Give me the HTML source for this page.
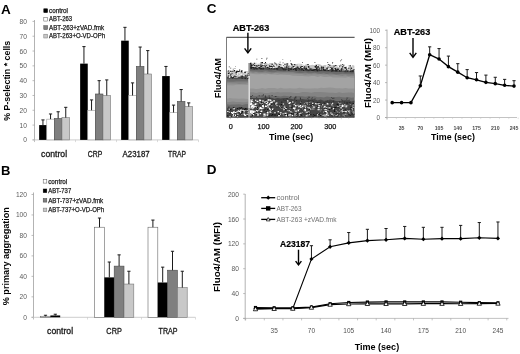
<!DOCTYPE html>
<html><head><meta charset="utf-8"><title>Figure</title>
<style>html,body{margin:0;padding:0;background:#fff;overflow:hidden}svg{display:block}text{font-family:"Liberation Sans",sans-serif}</style>
</head><body>
<svg width="520" height="354" viewBox="0 0 520 354">
<rect x="0" y="0" width="520" height="354" fill="#fff"/>
<text x="1.00" y="14.00" font-size="13.5" font-weight="bold" fill="#000" text-anchor="start" >A</text>
<line x1="34.50" y1="20.00" x2="34.50" y2="141.90" stroke="#a0a0a0" stroke-width="0.8" />
<line x1="32.50" y1="139.90" x2="198.50" y2="139.90" stroke="#c0c0c0" stroke-width="0.8" />
<line x1="32.50" y1="139.90" x2="34.50" y2="139.90" stroke="#a0a0a0" stroke-width="0.7" />
<text x="27.00" y="142.40" font-size="7" font-weight="normal" fill="#5a5a5a" text-anchor="end" textLength="3.7" lengthAdjust="spacingAndGlyphs" >0</text>
<line x1="32.50" y1="125.09" x2="34.50" y2="125.09" stroke="#a0a0a0" stroke-width="0.7" />
<text x="27.00" y="127.59" font-size="7" font-weight="normal" fill="#5a5a5a" text-anchor="end" textLength="7.4" lengthAdjust="spacingAndGlyphs" >10</text>
<line x1="32.50" y1="110.28" x2="34.50" y2="110.28" stroke="#a0a0a0" stroke-width="0.7" />
<text x="27.00" y="112.78" font-size="7" font-weight="normal" fill="#5a5a5a" text-anchor="end" textLength="7.4" lengthAdjust="spacingAndGlyphs" >20</text>
<line x1="32.50" y1="95.47" x2="34.50" y2="95.47" stroke="#a0a0a0" stroke-width="0.7" />
<text x="27.00" y="97.97" font-size="7" font-weight="normal" fill="#5a5a5a" text-anchor="end" textLength="7.4" lengthAdjust="spacingAndGlyphs" >30</text>
<line x1="32.50" y1="80.66" x2="34.50" y2="80.66" stroke="#a0a0a0" stroke-width="0.7" />
<text x="27.00" y="83.16" font-size="7" font-weight="normal" fill="#5a5a5a" text-anchor="end" textLength="7.4" lengthAdjust="spacingAndGlyphs" >40</text>
<line x1="32.50" y1="65.85" x2="34.50" y2="65.85" stroke="#a0a0a0" stroke-width="0.7" />
<text x="27.00" y="68.35" font-size="7" font-weight="normal" fill="#5a5a5a" text-anchor="end" textLength="7.4" lengthAdjust="spacingAndGlyphs" >50</text>
<line x1="32.50" y1="51.04" x2="34.50" y2="51.04" stroke="#a0a0a0" stroke-width="0.7" />
<text x="27.00" y="53.54" font-size="7" font-weight="normal" fill="#5a5a5a" text-anchor="end" textLength="7.4" lengthAdjust="spacingAndGlyphs" >60</text>
<line x1="32.50" y1="36.23" x2="34.50" y2="36.23" stroke="#a0a0a0" stroke-width="0.7" />
<text x="27.00" y="38.73" font-size="7" font-weight="normal" fill="#5a5a5a" text-anchor="end" textLength="7.4" lengthAdjust="spacingAndGlyphs" >70</text>
<line x1="32.50" y1="21.42" x2="34.50" y2="21.42" stroke="#a0a0a0" stroke-width="0.7" />
<text x="27.00" y="23.92" font-size="7" font-weight="normal" fill="#5a5a5a" text-anchor="end" textLength="7.4" lengthAdjust="spacingAndGlyphs" >80</text>
<line x1="34.50" y1="139.90" x2="34.50" y2="142.10" stroke="#c4c4c4" stroke-width="0.6" />
<line x1="75.50" y1="139.90" x2="75.50" y2="142.10" stroke="#c4c4c4" stroke-width="0.6" />
<line x1="116.50" y1="139.90" x2="116.50" y2="142.10" stroke="#c4c4c4" stroke-width="0.6" />
<line x1="157.50" y1="139.90" x2="157.50" y2="142.10" stroke="#c4c4c4" stroke-width="0.6" />
<line x1="198.50" y1="139.90" x2="198.50" y2="142.10" stroke="#c4c4c4" stroke-width="0.6" />
<rect x="39.15" y="125.09" width="7.60" height="14.81" fill="#000"/>
<line x1="42.95" y1="125.09" x2="42.95" y2="119.91" stroke="#1a1a1a" stroke-width="1.0" />
<line x1="41.35" y1="119.91" x2="44.55" y2="119.91" stroke="#1a1a1a" stroke-width="1.0" />
<rect x="46.75" y="119.17" width="7.60" height="20.73" fill="#fff" stroke="#999" stroke-width="0.6"/>
<line x1="50.55" y1="119.17" x2="50.55" y2="113.98" stroke="#1a1a1a" stroke-width="1.0" />
<line x1="48.95" y1="113.98" x2="52.15" y2="113.98" stroke="#1a1a1a" stroke-width="1.0" />
<rect x="54.35" y="118.43" width="7.60" height="21.47" fill="#7f7f7f" stroke="#4a4a4a" stroke-width="0.6"/>
<line x1="58.15" y1="118.43" x2="58.15" y2="111.76" stroke="#1a1a1a" stroke-width="1.0" />
<line x1="56.55" y1="111.76" x2="59.75" y2="111.76" stroke="#1a1a1a" stroke-width="1.0" />
<rect x="61.95" y="117.69" width="7.60" height="22.22" fill="#c8c8c8" stroke="#777" stroke-width="0.6"/>
<line x1="65.75" y1="117.69" x2="65.75" y2="107.32" stroke="#1a1a1a" stroke-width="1.0" />
<line x1="64.15" y1="107.32" x2="67.35" y2="107.32" stroke="#1a1a1a" stroke-width="1.0" />
<rect x="80.15" y="63.63" width="7.60" height="76.27" fill="#000"/>
<line x1="83.95" y1="63.63" x2="83.95" y2="46.60" stroke="#1a1a1a" stroke-width="1.0" />
<line x1="82.35" y1="46.60" x2="85.55" y2="46.60" stroke="#1a1a1a" stroke-width="1.0" />
<rect x="87.75" y="110.28" width="7.60" height="29.62" fill="#fff" stroke="#999" stroke-width="0.6"/>
<line x1="91.55" y1="110.28" x2="91.55" y2="99.91" stroke="#1a1a1a" stroke-width="1.0" />
<line x1="89.95" y1="99.91" x2="93.15" y2="99.91" stroke="#1a1a1a" stroke-width="1.0" />
<rect x="95.35" y="93.99" width="7.60" height="45.91" fill="#7f7f7f" stroke="#4a4a4a" stroke-width="0.6"/>
<line x1="99.15" y1="93.99" x2="99.15" y2="80.66" stroke="#1a1a1a" stroke-width="1.0" />
<line x1="97.55" y1="80.66" x2="100.75" y2="80.66" stroke="#1a1a1a" stroke-width="1.0" />
<rect x="102.95" y="95.47" width="7.60" height="44.43" fill="#c8c8c8" stroke="#777" stroke-width="0.6"/>
<line x1="106.75" y1="95.47" x2="106.75" y2="79.92" stroke="#1a1a1a" stroke-width="1.0" />
<line x1="105.15" y1="79.92" x2="108.35" y2="79.92" stroke="#1a1a1a" stroke-width="1.0" />
<rect x="121.15" y="40.67" width="7.60" height="99.23" fill="#000"/>
<line x1="124.95" y1="40.67" x2="124.95" y2="27.34" stroke="#1a1a1a" stroke-width="1.0" />
<line x1="123.35" y1="27.34" x2="126.55" y2="27.34" stroke="#1a1a1a" stroke-width="1.0" />
<rect x="128.75" y="95.47" width="7.60" height="44.43" fill="#fff" stroke="#999" stroke-width="0.6"/>
<line x1="132.55" y1="95.47" x2="132.55" y2="82.88" stroke="#1a1a1a" stroke-width="1.0" />
<line x1="130.95" y1="82.88" x2="134.15" y2="82.88" stroke="#1a1a1a" stroke-width="1.0" />
<rect x="136.35" y="66.44" width="7.60" height="73.46" fill="#7f7f7f" stroke="#4a4a4a" stroke-width="0.6"/>
<line x1="140.15" y1="66.44" x2="140.15" y2="47.04" stroke="#1a1a1a" stroke-width="1.0" />
<line x1="138.55" y1="47.04" x2="141.75" y2="47.04" stroke="#1a1a1a" stroke-width="1.0" />
<rect x="143.95" y="74.00" width="7.60" height="65.90" fill="#c8c8c8" stroke="#777" stroke-width="0.6"/>
<line x1="147.75" y1="74.00" x2="147.75" y2="50.60" stroke="#1a1a1a" stroke-width="1.0" />
<line x1="146.15" y1="50.60" x2="149.35" y2="50.60" stroke="#1a1a1a" stroke-width="1.0" />
<rect x="162.15" y="76.07" width="7.60" height="63.83" fill="#000"/>
<line x1="165.95" y1="76.07" x2="165.95" y2="66.44" stroke="#1a1a1a" stroke-width="1.0" />
<line x1="164.35" y1="66.44" x2="167.55" y2="66.44" stroke="#1a1a1a" stroke-width="1.0" />
<rect x="169.75" y="112.50" width="7.60" height="27.40" fill="#fff" stroke="#999" stroke-width="0.6"/>
<line x1="173.55" y1="112.50" x2="173.55" y2="105.10" stroke="#1a1a1a" stroke-width="1.0" />
<line x1="171.95" y1="105.10" x2="175.15" y2="105.10" stroke="#1a1a1a" stroke-width="1.0" />
<rect x="177.35" y="101.39" width="7.60" height="38.51" fill="#7f7f7f" stroke="#4a4a4a" stroke-width="0.6"/>
<line x1="181.15" y1="101.39" x2="181.15" y2="89.55" stroke="#1a1a1a" stroke-width="1.0" />
<line x1="179.55" y1="89.55" x2="182.75" y2="89.55" stroke="#1a1a1a" stroke-width="1.0" />
<rect x="184.95" y="106.58" width="7.60" height="33.32" fill="#c8c8c8" stroke="#777" stroke-width="0.6"/>
<line x1="188.75" y1="106.58" x2="188.75" y2="102.88" stroke="#1a1a1a" stroke-width="1.0" />
<line x1="187.15" y1="102.88" x2="190.35" y2="102.88" stroke="#1a1a1a" stroke-width="1.0" />
<text x="54.10" y="157.00" font-size="8.3" font-weight="normal" fill="#1a1a1a" text-anchor="middle" textLength="26.0" lengthAdjust="spacingAndGlyphs" stroke="#1a1a1a" stroke-width="0.3">control</text>
<text x="95.10" y="157.00" font-size="8.3" font-weight="normal" fill="#1a1a1a" text-anchor="middle" textLength="14.5" lengthAdjust="spacingAndGlyphs" stroke="#1a1a1a" stroke-width="0.3">CRP</text>
<text x="136.10" y="157.00" font-size="8.3" font-weight="normal" fill="#1a1a1a" text-anchor="middle" textLength="27.0" lengthAdjust="spacingAndGlyphs" stroke="#1a1a1a" stroke-width="0.3">A23187</text>
<text x="177.10" y="157.00" font-size="8.3" font-weight="normal" fill="#1a1a1a" text-anchor="middle" textLength="18.0" lengthAdjust="spacingAndGlyphs" stroke="#1a1a1a" stroke-width="0.3">TRAP</text>
<text x="10.00" y="80.80" font-size="9" font-weight="bold" fill="#000" text-anchor="middle" textLength="80.0" lengthAdjust="spacingAndGlyphs" transform="rotate(-90 10.00 80.80)" >% P-selectin * cells</text>
<rect x="43.80" y="8.80" width="3.80" height="3.80" fill="#000" stroke="#000" stroke-width="0.5"/>
<text x="49.00" y="13.00" font-size="6.3" font-weight="normal" fill="#222" text-anchor="start" textLength="19.0" lengthAdjust="spacingAndGlyphs" stroke="#222" stroke-width="0.25">control</text>
<rect x="43.80" y="17.27" width="3.80" height="3.80" fill="#fff" stroke="#555" stroke-width="0.5"/>
<text x="49.00" y="21.47" font-size="6.3" font-weight="normal" fill="#222" text-anchor="start" textLength="23.0" lengthAdjust="spacingAndGlyphs" stroke="#222" stroke-width="0.25">ABT-263</text>
<rect x="43.80" y="25.74" width="3.80" height="3.80" fill="#7f7f7f" stroke="#444" stroke-width="0.5"/>
<text x="49.00" y="29.94" font-size="6.3" font-weight="normal" fill="#222" text-anchor="start" textLength="55.0" lengthAdjust="spacingAndGlyphs" stroke="#222" stroke-width="0.25">ABT-263+zVAD.fmk</text>
<rect x="43.80" y="34.21" width="3.80" height="3.80" fill="#c8c8c8" stroke="#777" stroke-width="0.5"/>
<text x="49.00" y="38.41" font-size="6.3" font-weight="normal" fill="#222" text-anchor="start" textLength="56.0" lengthAdjust="spacingAndGlyphs" stroke="#222" stroke-width="0.25">ABT-263+O-VD-OPh</text>
<text x="0.90" y="175.00" font-size="13" font-weight="bold" fill="#000" text-anchor="start" >B</text>
<line x1="33.50" y1="192.48" x2="33.50" y2="319.30" stroke="#a0a0a0" stroke-width="0.8" />
<line x1="31.50" y1="317.30" x2="195.50" y2="317.30" stroke="#c0c0c0" stroke-width="0.8" />
<line x1="31.50" y1="317.30" x2="33.50" y2="317.30" stroke="#a0a0a0" stroke-width="0.7" />
<text x="27.00" y="319.80" font-size="7" font-weight="normal" fill="#5a5a5a" text-anchor="end" textLength="3.7" lengthAdjust="spacingAndGlyphs" >0</text>
<line x1="31.50" y1="296.83" x2="33.50" y2="296.83" stroke="#a0a0a0" stroke-width="0.7" />
<text x="27.00" y="299.33" font-size="7" font-weight="normal" fill="#5a5a5a" text-anchor="end" textLength="7.4" lengthAdjust="spacingAndGlyphs" >20</text>
<line x1="31.50" y1="276.36" x2="33.50" y2="276.36" stroke="#a0a0a0" stroke-width="0.7" />
<text x="27.00" y="278.86" font-size="7" font-weight="normal" fill="#5a5a5a" text-anchor="end" textLength="7.4" lengthAdjust="spacingAndGlyphs" >40</text>
<line x1="31.50" y1="255.89" x2="33.50" y2="255.89" stroke="#a0a0a0" stroke-width="0.7" />
<text x="27.00" y="258.39" font-size="7" font-weight="normal" fill="#5a5a5a" text-anchor="end" textLength="7.4" lengthAdjust="spacingAndGlyphs" >60</text>
<line x1="31.50" y1="235.42" x2="33.50" y2="235.42" stroke="#a0a0a0" stroke-width="0.7" />
<text x="27.00" y="237.92" font-size="7" font-weight="normal" fill="#5a5a5a" text-anchor="end" textLength="7.4" lengthAdjust="spacingAndGlyphs" >80</text>
<line x1="31.50" y1="214.95" x2="33.50" y2="214.95" stroke="#a0a0a0" stroke-width="0.7" />
<text x="27.00" y="217.45" font-size="7" font-weight="normal" fill="#5a5a5a" text-anchor="end" textLength="11.1" lengthAdjust="spacingAndGlyphs" >100</text>
<line x1="31.50" y1="194.48" x2="33.50" y2="194.48" stroke="#a0a0a0" stroke-width="0.7" />
<text x="27.00" y="196.98" font-size="7" font-weight="normal" fill="#5a5a5a" text-anchor="end" textLength="11.1" lengthAdjust="spacingAndGlyphs" >120</text>
<line x1="33.50" y1="317.30" x2="33.50" y2="319.50" stroke="#c4c4c4" stroke-width="0.6" />
<line x1="87.50" y1="317.30" x2="87.50" y2="319.50" stroke="#c4c4c4" stroke-width="0.6" />
<line x1="141.50" y1="317.30" x2="141.50" y2="319.50" stroke="#c4c4c4" stroke-width="0.6" />
<line x1="195.50" y1="317.30" x2="195.50" y2="319.50" stroke="#c4c4c4" stroke-width="0.6" />
<rect x="40.60" y="316.28" width="9.80" height="1.02" fill="#fff" stroke="#666" stroke-width="0.6"/>
<line x1="45.50" y1="316.28" x2="45.50" y2="315.25" stroke="#1a1a1a" stroke-width="1.0" />
<line x1="43.90" y1="315.25" x2="47.10" y2="315.25" stroke="#1a1a1a" stroke-width="1.0" />
<rect x="50.40" y="315.46" width="9.80" height="1.84" fill="#000"/>
<line x1="55.30" y1="315.46" x2="55.30" y2="314.23" stroke="#1a1a1a" stroke-width="1.0" />
<line x1="53.70" y1="314.23" x2="56.90" y2="314.23" stroke="#1a1a1a" stroke-width="1.0" />
<rect x="94.60" y="227.23" width="9.80" height="90.07" fill="#fff" stroke="#666" stroke-width="0.6"/>
<line x1="99.50" y1="227.23" x2="99.50" y2="218.02" stroke="#1a1a1a" stroke-width="1.0" />
<line x1="97.90" y1="218.02" x2="101.10" y2="218.02" stroke="#1a1a1a" stroke-width="1.0" />
<rect x="104.40" y="277.38" width="9.80" height="39.92" fill="#000"/>
<line x1="109.30" y1="277.38" x2="109.30" y2="262.03" stroke="#1a1a1a" stroke-width="1.0" />
<line x1="107.70" y1="262.03" x2="110.90" y2="262.03" stroke="#1a1a1a" stroke-width="1.0" />
<rect x="114.20" y="266.12" width="9.80" height="51.18" fill="#7f7f7f" stroke="#4a4a4a" stroke-width="0.6"/>
<line x1="119.10" y1="266.12" x2="119.10" y2="254.87" stroke="#1a1a1a" stroke-width="1.0" />
<line x1="117.50" y1="254.87" x2="120.70" y2="254.87" stroke="#1a1a1a" stroke-width="1.0" />
<rect x="124.00" y="284.04" width="9.80" height="33.26" fill="#c8c8c8" stroke="#777" stroke-width="0.6"/>
<line x1="128.90" y1="284.04" x2="128.90" y2="271.24" stroke="#1a1a1a" stroke-width="1.0" />
<line x1="127.30" y1="271.24" x2="130.50" y2="271.24" stroke="#1a1a1a" stroke-width="1.0" />
<rect x="148.00" y="227.23" width="9.80" height="90.07" fill="#fff" stroke="#666" stroke-width="0.6"/>
<line x1="152.90" y1="227.23" x2="152.90" y2="220.07" stroke="#1a1a1a" stroke-width="1.0" />
<line x1="151.30" y1="220.07" x2="154.50" y2="220.07" stroke="#1a1a1a" stroke-width="1.0" />
<rect x="157.80" y="282.50" width="9.80" height="34.80" fill="#000"/>
<line x1="162.70" y1="282.50" x2="162.70" y2="267.15" stroke="#1a1a1a" stroke-width="1.0" />
<line x1="161.10" y1="267.15" x2="164.30" y2="267.15" stroke="#1a1a1a" stroke-width="1.0" />
<rect x="167.60" y="270.22" width="9.80" height="47.08" fill="#7f7f7f" stroke="#4a4a4a" stroke-width="0.6"/>
<line x1="172.50" y1="270.22" x2="172.50" y2="251.28" stroke="#1a1a1a" stroke-width="1.0" />
<line x1="170.90" y1="251.28" x2="174.10" y2="251.28" stroke="#1a1a1a" stroke-width="1.0" />
<rect x="177.40" y="287.62" width="9.80" height="29.68" fill="#c8c8c8" stroke="#777" stroke-width="0.6"/>
<line x1="182.30" y1="287.62" x2="182.30" y2="271.24" stroke="#1a1a1a" stroke-width="1.0" />
<line x1="180.70" y1="271.24" x2="183.90" y2="271.24" stroke="#1a1a1a" stroke-width="1.0" />
<text x="60.10" y="333.80" font-size="8.3" font-weight="normal" fill="#1a1a1a" text-anchor="middle" textLength="26.0" lengthAdjust="spacingAndGlyphs" stroke="#1a1a1a" stroke-width="0.3">control</text>
<text x="114.10" y="333.80" font-size="8.3" font-weight="normal" fill="#1a1a1a" text-anchor="middle" textLength="15.5" lengthAdjust="spacingAndGlyphs" stroke="#1a1a1a" stroke-width="0.3">CRP</text>
<text x="168.10" y="333.80" font-size="8.3" font-weight="normal" fill="#1a1a1a" text-anchor="middle" textLength="19.0" lengthAdjust="spacingAndGlyphs" stroke="#1a1a1a" stroke-width="0.3">TRAP</text>
<text x="9.20" y="256.20" font-size="9" font-weight="bold" fill="#000" text-anchor="middle" textLength="98.0" lengthAdjust="spacingAndGlyphs" transform="rotate(-90 9.20 256.20)" >% primary aggregation</text>
<rect x="43.20" y="179.50" width="3.60" height="3.60" fill="#fff" stroke="#555" stroke-width="0.5"/>
<text x="48.20" y="183.60" font-size="6.3" font-weight="normal" fill="#222" text-anchor="start" textLength="19.0" lengthAdjust="spacingAndGlyphs" stroke="#222" stroke-width="0.25">control</text>
<rect x="43.20" y="189.00" width="3.60" height="3.60" fill="#000" stroke="#000" stroke-width="0.5"/>
<text x="48.20" y="193.10" font-size="6.3" font-weight="normal" fill="#222" text-anchor="start" textLength="23.0" lengthAdjust="spacingAndGlyphs" stroke="#222" stroke-width="0.25">ABT-737</text>
<rect x="43.20" y="198.50" width="3.60" height="3.60" fill="#7f7f7f" stroke="#444" stroke-width="0.5"/>
<text x="48.20" y="202.60" font-size="6.3" font-weight="normal" fill="#222" text-anchor="start" textLength="55.0" lengthAdjust="spacingAndGlyphs" stroke="#222" stroke-width="0.25">ABT-737+zVAD.fmk</text>
<rect x="43.20" y="208.10" width="3.60" height="3.60" fill="#c8c8c8" stroke="#777" stroke-width="0.5"/>
<text x="48.20" y="212.20" font-size="6.3" font-weight="normal" fill="#222" text-anchor="start" textLength="56.0" lengthAdjust="spacingAndGlyphs" stroke="#222" stroke-width="0.25">ABT-737+O-VD-OPh</text>
<text x="206.80" y="13.20" font-size="13.5" font-weight="bold" fill="#000" text-anchor="start" >C</text>
<defs><clipPath id="cbox"><rect x="226.6" y="37.3" width="128" height="80.3"/></clipPath></defs>
<g clip-path="url(#cbox)">
<polygon points="249.9,63.1 251.9,62.7 253.9,64.0 255.9,62.6 258.0,63.8 260.0,63.4 262.0,62.7 264.0,63.9 266.0,62.8 268.0,63.8 270.0,62.9 272.0,63.0 274.1,63.9 276.1,64.9 278.1,63.3 280.1,63.6 282.1,64.6 284.1,65.4 286.1,64.6 288.2,64.2 290.2,65.6 292.2,63.4 294.2,65.4 296.2,64.1 298.2,63.8 300.2,63.8 302.2,64.3 304.3,65.6 306.3,64.1 308.3,65.1 310.3,65.3 312.3,64.7 314.3,65.2 316.3,64.0 318.4,64.1 320.4,64.5 322.4,65.7 324.4,65.1 326.4,64.9 328.4,65.6 330.4,65.3 332.5,65.0 334.5,66.2 336.5,66.0 338.5,65.0 340.5,65.8 342.5,65.8 344.5,66.7 346.5,66.4 348.6,65.3 350.6,67.1 352.6,65.0 354.6,65.8 354.6,118.6 352.6,117.2 350.6,118.0 348.6,116.9 346.5,118.4 344.5,118.6 342.5,118.2 340.5,118.9 338.5,117.6 336.5,118.5 334.5,118.2 332.5,118.2 330.4,117.9 328.4,118.8 326.4,119.1 324.4,117.9 322.4,118.4 320.4,116.9 318.4,118.5 316.3,118.4 314.3,119.2 312.3,118.8 310.3,117.5 308.3,117.7 306.3,118.4 304.3,116.9 302.2,117.9 300.2,117.2 298.2,117.1 296.2,116.9 294.2,118.6 292.2,117.1 290.2,117.4 288.2,117.7 286.1,118.9 284.1,117.0 282.1,117.9 280.1,118.1 278.1,118.9 276.1,118.8 274.1,118.9 272.0,117.5 270.0,117.8 268.0,117.7 266.0,118.9 264.0,119.1 262.0,117.2 260.0,117.2 258.0,117.4 255.9,117.4 253.9,118.0 251.9,118.2 249.9,117.4" fill="#c4c4c4"/>
<polygon points="249.9,66.4 251.9,67.0 253.9,67.0 255.9,67.3 258.0,67.8 260.0,67.6 262.0,67.4 264.0,67.6 266.0,67.7 268.0,67.1 270.0,68.2 272.0,68.1 274.1,68.3 276.1,68.2 278.1,67.8 280.1,67.9 282.1,67.6 284.1,68.3 286.1,67.7 288.2,67.8 290.2,68.0 292.2,68.0 294.2,68.3 296.2,68.0 298.2,68.0 300.2,68.3 302.2,68.3 304.3,68.7 306.3,68.3 308.3,69.4 310.3,69.2 312.3,68.7 314.3,68.9 316.3,69.0 318.4,69.1 320.4,68.9 322.4,69.8 324.4,70.1 326.4,69.5 328.4,69.6 330.4,69.2 332.5,69.3 334.5,69.6 336.5,69.6 338.5,70.4 340.5,69.6 342.5,69.5 344.5,70.7 346.5,70.3 348.6,69.9 350.6,70.4 352.6,69.9 354.6,70.5 354.6,118.6 352.6,118.4 350.6,118.2 348.6,117.7 346.5,117.8 344.5,117.6 342.5,118.3 340.5,118.0 338.5,118.3 336.5,117.8 334.5,117.7 332.5,118.4 330.4,118.6 328.4,118.4 326.4,118.4 324.4,118.4 322.4,118.3 320.4,117.7 318.4,118.0 316.3,117.8 314.3,117.4 312.3,117.4 310.3,117.7 308.3,117.7 306.3,118.2 304.3,118.5 302.2,117.9 300.2,118.5 298.2,118.6 296.2,118.5 294.2,117.8 292.2,117.7 290.2,117.7 288.2,117.6 286.1,117.6 284.1,118.1 282.1,118.5 280.1,118.4 278.1,118.0 276.1,118.2 274.1,118.4 272.0,117.5 270.0,118.2 268.0,118.5 266.0,118.3 264.0,118.3 262.0,118.0 260.0,117.6 258.0,118.3 255.9,117.8 253.9,118.4 251.9,118.6 249.9,117.9" fill="#4e4e4e"/>
<polygon points="249.9,69.2 253.0,69.8 256.1,69.7 259.1,69.3 262.2,69.3 265.3,69.4 268.4,70.3 271.5,70.3 274.5,69.7 277.6,70.5 280.7,70.7 283.8,70.5 286.9,70.3 289.9,70.6 293.0,70.2 296.1,70.2 299.2,71.3 302.2,71.0 305.3,71.0 308.4,71.5 311.5,71.1 314.6,71.6 317.6,71.7 320.7,71.2 323.8,71.3 326.9,71.4 330.0,71.5 333.0,71.9 336.1,71.7 339.2,71.9 342.3,71.8 345.4,72.6 348.4,72.2 351.5,72.4 354.6,72.6 354.6,102.9 351.5,102.3 348.4,102.7 345.4,102.1 342.3,102.1 339.2,101.9 336.1,101.3 333.0,101.6 330.0,101.2 326.9,100.9 323.8,101.6 320.7,100.9 317.6,101.1 314.6,101.2 311.5,100.9 308.4,100.6 305.3,100.6 302.2,100.6 299.2,100.7 296.1,99.9 293.0,100.2 289.9,99.8 286.9,99.7 283.8,100.1 280.7,99.7 277.6,99.6 274.5,99.7 271.5,99.7 268.4,99.1 265.3,99.2 262.2,99.0 259.1,98.9 256.1,98.9 253.0,98.6 249.9,98.5" fill="#6c6c6c"/>
<polygon points="249.9,71.0 253.0,71.5 256.1,71.4 259.1,71.7 262.2,71.9 265.3,71.3 268.4,71.7 271.5,72.2 274.5,72.2 277.6,71.6 280.7,71.7 283.8,72.1 286.9,71.8 289.9,72.1 293.0,72.0 296.1,72.7 299.2,72.9 302.2,73.1 305.3,72.5 308.4,73.2 311.5,73.2 314.6,72.8 317.6,73.6 320.7,73.8 323.8,73.2 326.9,74.0 330.0,73.6 333.0,73.8 336.1,74.4 339.2,74.3 342.3,73.7 345.4,74.1 348.4,74.3 351.5,74.2 354.6,74.2 354.6,97.3 351.5,97.7 348.4,96.9 345.4,97.4 342.3,97.2 339.2,96.7 336.1,97.0 333.0,97.2 330.0,97.0 326.9,96.5 323.8,97.4 320.7,97.1 317.6,97.3 314.6,96.3 311.5,96.4 308.4,96.2 305.3,96.8 302.2,96.3 299.2,96.1 296.1,96.3 293.0,96.7 289.9,96.6 286.9,96.0 283.8,95.8 280.7,96.5 277.6,96.1 274.5,96.2 271.5,95.5 268.4,95.4 265.3,96.0 262.2,95.7 259.1,95.2 256.1,96.1 253.0,95.7 249.9,95.8" fill="#838383"/>
<polygon points="249.9,72.0 253.0,73.0 256.1,72.2 259.1,73.2 262.2,72.9 265.3,72.8 268.4,73.2 271.5,73.7 274.5,73.0 277.6,73.0 280.7,73.6 283.8,73.3 286.9,73.3 289.9,73.4 293.0,73.4 296.1,73.7 299.2,73.9 302.2,74.0 305.3,74.7 308.4,74.2 311.5,74.6 314.6,74.3 317.6,74.6 320.7,74.3 323.8,74.7 326.9,74.5 330.0,75.5 333.0,75.3 336.1,75.0 339.2,75.5 342.3,76.1 345.4,75.2 348.4,76.2 351.5,75.8 354.6,76.0 354.6,92.9 351.5,92.4 348.4,92.5 345.4,92.7 342.3,93.1 339.2,92.3 336.1,92.9 333.0,92.7 330.0,92.7 326.9,92.4 323.8,92.3 320.7,92.0 317.6,92.1 314.6,92.0 311.5,92.8 308.4,92.2 305.3,92.1 302.2,92.0 299.2,92.9 296.1,92.9 293.0,92.7 289.9,92.2 286.9,92.2 283.8,92.3 280.7,92.5 277.6,92.1 274.5,92.4 271.5,92.2 268.4,93.1 265.3,93.1 262.2,92.6 259.1,92.2 256.1,93.1 253.0,92.3 249.9,92.3" fill="#939393"/>
<polygon points="249.9,73.4 253.0,74.0 256.1,74.2 259.1,74.3 262.2,74.1 265.3,74.6 268.4,74.1 271.5,74.5 274.5,74.4 277.6,74.9 280.7,74.6 283.8,74.7 286.9,75.1 289.9,75.1 293.0,75.7 296.1,75.7 299.2,76.1 302.2,76.1 305.3,76.3 308.4,76.6 311.5,76.1 314.6,76.1 317.6,77.0 320.7,76.1 323.8,77.0 326.9,77.0 330.0,76.4 333.0,77.4 336.1,77.6 339.2,77.4 342.3,77.6 345.4,77.8 348.4,77.1 351.5,77.7 354.6,77.8 354.6,88.4 351.5,88.4 348.4,88.4 345.4,88.1 342.3,88.5 339.2,88.3 336.1,88.3 333.0,87.8 330.0,87.6 326.9,87.7 323.8,88.0 320.7,87.7 317.6,88.6 314.6,88.3 311.5,88.4 308.4,88.4 305.3,88.5 302.2,88.2 299.2,87.7 296.1,88.6 293.0,88.6 289.9,88.3 286.9,88.4 283.8,88.5 280.7,87.8 277.6,88.7 274.5,88.1 271.5,87.9 268.4,88.1 265.3,88.7 262.2,88.1 259.1,88.7 256.1,89.0 253.0,88.5 249.9,88.4" fill="#a3a3a3"/>
<polygon points="249.9,97.5 253.0,97.9 256.1,98.1 259.1,98.0 262.2,98.1 265.3,97.3 268.4,97.6 271.5,97.8 274.5,98.7 277.6,98.1 280.7,98.6 283.8,97.9 286.9,98.0 289.9,98.5 293.0,99.2 296.1,99.4 299.2,99.4 302.2,98.9 305.3,99.4 308.4,99.4 311.5,99.5 314.6,99.1 317.6,100.4 320.7,99.4 323.8,100.7 326.9,100.8 330.0,99.4 333.0,100.2 336.1,100.9 339.2,101.2 342.3,100.5 345.4,100.3 348.4,100.3 351.5,101.6 354.6,100.5 354.6,118.1 351.5,117.4 348.4,118.0 345.4,118.7 342.3,117.4 339.2,118.5 336.1,118.0 333.0,118.6 330.0,118.3 326.9,117.6 323.8,118.6 320.7,118.0 317.6,117.2 314.6,117.2 311.5,118.0 308.4,117.9 305.3,117.7 302.2,117.4 299.2,117.8 296.1,117.7 293.0,118.5 289.9,117.2 286.9,118.4 283.8,118.5 280.7,117.4 277.6,118.7 274.5,118.3 271.5,118.6 268.4,117.7 265.3,117.8 262.2,117.8 259.1,118.8 256.1,118.1 253.0,117.8 249.9,117.9" fill="#454545"/>
<polygon points="226.8,71.1 229.0,70.6 231.1,70.7 233.3,72.2 235.4,71.1 237.6,72.4 239.8,71.0 241.9,71.0 244.1,71.5 246.2,70.9 248.4,71.2 248.4,118.9 246.2,118.8 244.1,118.6 241.9,118.3 239.8,118.8 237.6,118.9 235.4,118.1 233.3,118.4 231.1,117.1 229.0,118.5 226.8,117.9" fill="#c4c4c4"/>
<polygon points="226.8,76.8 229.9,76.6 233.0,76.3 236.1,76.0 239.1,76.9 242.2,76.1 245.3,76.5 248.4,76.3 248.4,117.8 245.3,118.2 242.2,118.5 239.1,117.8 236.1,118.2 233.0,117.8 229.9,118.1 226.8,117.9" fill="#4e4e4e"/>
<polygon points="226.8,78.7 229.9,78.7 233.0,78.8 236.1,79.3 239.1,79.0 242.2,78.8 245.3,79.3 248.4,79.4 248.4,108.0 245.3,107.7 242.2,107.8 239.1,107.7 236.1,107.9 233.0,107.7 229.9,107.8 226.8,107.8" fill="#6c6c6c"/>
<polygon points="226.8,81.6 229.9,81.8 233.0,81.7 236.1,81.4 239.1,81.4 242.2,81.5 245.3,81.4 248.4,81.4 248.4,104.1 245.3,104.3 242.2,104.9 239.1,104.2 236.1,104.5 233.0,104.6 229.9,104.8 226.8,104.3" fill="#838383"/>
<polygon points="226.8,83.3 229.9,83.3 233.0,83.4 236.1,83.5 239.1,83.9 242.2,83.8 245.3,83.8 248.4,83.1 248.4,101.6 245.3,102.2 242.2,102.3 239.1,102.0 236.1,102.1 233.0,101.6 229.9,101.9 226.8,102.3" fill="#939393"/>
<polygon points="226.8,85.3 229.9,85.3 233.0,85.4 236.1,84.8 239.1,84.7 242.2,84.7 245.3,85.0 248.4,85.1 248.4,98.9 245.3,98.7 242.2,98.6 239.1,98.7 236.1,98.5 233.0,98.5 229.9,98.1 226.8,98.7" fill="#a0a0a0"/>
<polygon points="226.8,107.7 229.9,108.5 233.0,108.2 236.1,107.8 239.1,107.6 242.2,107.7 245.3,108.2 248.4,108.2 248.4,117.5 245.3,117.5 242.2,118.0 239.1,118.1 236.1,117.9 233.0,117.7 229.9,118.1 226.8,117.4" fill="#454545"/>
<path d="M281.5 65.5h1.5v1.0h-1.5zM342.4 67.3h1.0v0.8h-1.0zM350.5 68.6h1.1v0.7h-1.1zM302.1 67.0h1.2v0.8h-1.2zM319.8 68.7h1.0v0.7h-1.0zM285.3 65.4h1.3v0.8h-1.3zM333.4 68.2h1.2v0.8h-1.2zM351.4 66.8h1.4v0.8h-1.4zM273.1 66.6h1.1v1.2h-1.1zM301.8 64.8h1.0v0.9h-1.0zM319.6 68.8h1.0v0.9h-1.0zM272.2 67.5h1.0v0.7h-1.0zM256.2 64.5h1.4v1.1h-1.4zM326.6 69.2h1.5v0.9h-1.5zM269.3 67.3h1.3v0.7h-1.3zM319.5 66.2h1.1v0.9h-1.1zM267.6 63.0h1.1v0.9h-1.1zM349.9 65.9h1.5v0.8h-1.5zM287.2 67.3h1.4v0.9h-1.4zM255.1 64.8h1.1v1.2h-1.1zM270.1 64.7h1.4v0.7h-1.4zM292.9 67.4h1.4v0.7h-1.4zM253.5 62.9h1.5v0.8h-1.5zM328.1 68.8h1.1v0.9h-1.1zM350.2 68.1h1.1v1.1h-1.1zM283.0 64.7h0.9v1.1h-0.9zM345.9 68.1h1.5v0.7h-1.5zM274.4 65.3h1.5v1.2h-1.5zM290.4 64.8h1.2v1.0h-1.2zM347.1 66.1h1.4v1.1h-1.4zM336.0 68.4h1.3v0.9h-1.3zM283.4 65.1h1.4v0.8h-1.4zM270.6 66.5h1.0v0.8h-1.0zM253.4 65.1h1.1v1.2h-1.1zM342.4 69.6h1.1v0.8h-1.1zM260.0 65.0h1.3v0.9h-1.3zM274.4 65.1h1.3v1.0h-1.3zM328.2 68.6h1.3v0.8h-1.3zM337.9 66.3h1.2v0.9h-1.2zM327.2 65.6h1.0v0.8h-1.0zM266.0 66.9h1.2v0.9h-1.2zM291.4 68.2h1.2v0.8h-1.2zM334.5 67.9h1.5v0.8h-1.5zM299.6 67.6h1.4v1.2h-1.4zM254.1 63.9h1.0v0.8h-1.0zM351.8 68.0h1.5v0.9h-1.5zM340.6 67.1h1.1v1.1h-1.1zM348.9 65.8h1.3v1.0h-1.3zM272.7 64.8h1.0v0.8h-1.0zM276.6 66.0h1.3v0.8h-1.3zM251.1 64.0h1.3v0.8h-1.3zM282.6 64.4h1.4v1.0h-1.4zM256.5 63.1h1.1v1.0h-1.1zM316.8 64.8h1.0v1.1h-1.0zM292.8 65.0h1.1v1.2h-1.1zM282.6 66.0h1.1v0.9h-1.1zM340.4 69.6h1.1v0.8h-1.1zM326.1 65.6h0.9v1.2h-0.9zM294.3 67.5h1.1v1.1h-1.1zM298.2 64.6h0.9v1.0h-0.9zM317.0 68.5h1.0v1.0h-1.0zM288.7 65.9h1.0v0.9h-1.0zM304.5 68.2h1.0v1.0h-1.0zM334.2 69.3h1.0v0.8h-1.0zM348.6 69.7h1.2v0.7h-1.2zM346.9 67.0h1.4v1.0h-1.4zM336.2 65.7h1.4v0.8h-1.4zM292.2 67.5h1.4v0.8h-1.4zM272.7 65.0h1.2v0.9h-1.2zM262.8 64.0h1.3v1.2h-1.3zM254.2 65.2h1.4v0.7h-1.4zM337.7 65.5h1.3v1.0h-1.3zM315.6 65.8h1.2v1.0h-1.2zM294.5 66.7h1.2v0.9h-1.2zM252.3 65.4h1.2v0.8h-1.2zM329.8 68.3h1.2v0.8h-1.2zM299.4 64.4h1.0v0.9h-1.0zM259.5 64.8h1.2v0.7h-1.2zM316.5 64.8h1.3v1.1h-1.3zM303.5 64.3h1.2v0.9h-1.2z" fill="#fff"/>
<path d="M349.5 65.2h1.4v1.2h-1.4zM326.5 69.0h1.0v1.2h-1.0zM301.4 69.2h1.4v0.8h-1.4zM332.4 69.9h0.9v0.9h-0.9zM329.1 64.8h1.4v0.9h-1.4zM335.3 64.9h1.2v1.2h-1.2zM271.7 63.8h1.2v0.9h-1.2zM253.8 62.8h1.0v1.2h-1.0zM321.1 69.4h1.0v1.1h-1.0zM261.9 65.3h1.3v0.9h-1.3zM341.3 67.7h1.2v1.1h-1.2zM260.9 68.3h1.3v0.9h-1.3zM333.4 65.6h1.5v1.0h-1.5zM287.6 67.6h1.2v0.8h-1.2zM327.8 64.0h1.4v0.8h-1.4zM316.8 69.8h1.3v1.0h-1.3zM282.6 62.4h0.9v0.8h-0.9zM314.4 66.2h1.2v1.1h-1.2zM263.7 63.4h1.3v0.7h-1.3zM250.2 63.8h1.0v0.9h-1.0zM273.4 66.0h1.3v0.8h-1.3zM315.2 66.5h1.0v1.2h-1.0zM275.4 63.2h1.0v1.0h-1.0zM341.1 69.2h1.1v0.8h-1.1zM251.1 65.7h1.2v0.9h-1.2zM317.5 66.3h1.5v1.1h-1.5zM275.9 68.1h0.9v1.0h-0.9zM292.4 64.3h0.9v1.1h-0.9zM251.2 65.1h1.5v0.8h-1.5zM270.8 66.1h1.2v1.0h-1.2zM335.1 65.1h1.1v0.9h-1.1zM255.0 67.4h1.4v1.1h-1.4zM250.6 67.0h1.3v0.9h-1.3zM327.6 66.7h1.0v0.8h-1.0zM274.2 62.4h1.1v1.1h-1.1zM322.7 69.1h1.3v0.8h-1.3zM307.9 66.0h1.4v1.0h-1.4zM277.7 66.5h1.5v0.8h-1.5zM342.0 64.2h1.1v0.8h-1.1zM327.8 69.9h1.3v0.9h-1.3zM342.1 66.3h1.0v1.2h-1.0zM315.9 67.9h1.3v1.2h-1.3zM299.1 68.4h1.3v1.1h-1.3zM295.7 67.5h1.2v0.9h-1.2zM272.1 66.2h0.9v1.2h-0.9zM265.0 62.1h1.0v1.2h-1.0zM286.0 63.5h0.9v0.7h-0.9zM322.4 67.7h1.3v1.1h-1.3zM256.8 65.5h1.1v1.1h-1.1zM335.7 69.8h0.9v1.1h-0.9zM345.6 70.4h1.0v0.8h-1.0zM261.6 62.1h1.4v1.1h-1.4zM316.3 68.8h1.3v0.9h-1.3zM260.4 62.4h1.4v0.8h-1.4zM283.3 65.2h0.9v0.8h-0.9zM279.5 67.0h1.1v0.9h-1.1zM350.8 67.7h1.4v1.0h-1.4zM253.1 64.3h1.2v1.1h-1.2zM286.2 67.1h1.2v0.8h-1.2zM340.2 64.7h1.4v0.8h-1.4zM250.0 62.8h1.4v1.2h-1.4zM250.4 64.7h1.2v1.1h-1.2zM269.2 65.3h1.1v1.1h-1.1zM277.2 68.4h1.1v0.8h-1.1zM323.1 66.8h1.0v1.0h-1.0zM258.4 66.9h1.3v1.1h-1.3zM315.6 65.7h1.1v0.9h-1.1zM343.1 64.7h1.4v0.7h-1.4zM271.5 63.8h1.4v1.0h-1.4zM289.6 68.4h1.0v0.9h-1.0zM305.6 68.0h1.4v1.0h-1.4zM286.4 64.7h1.0v1.1h-1.0zM319.2 68.3h1.0v0.9h-1.0zM330.9 67.6h1.0v0.9h-1.0zM342.6 65.7h1.0v0.9h-1.0zM323.5 69.1h1.0v0.8h-1.0zM275.8 64.4h1.2v0.8h-1.2zM284.2 63.7h1.5v1.1h-1.5zM260.6 68.1h1.0v0.9h-1.0zM352.9 69.6h1.3v0.9h-1.3zM270.4 66.2h1.0v0.8h-1.0zM290.6 62.9h1.1v1.1h-1.1zM322.5 66.8h1.3v0.9h-1.3zM264.7 65.8h1.1v1.1h-1.1zM345.0 67.0h1.2v1.1h-1.2zM294.0 64.2h1.3v1.1h-1.3zM330.9 68.4h1.4v1.0h-1.4zM317.1 66.4h1.1v1.0h-1.1zM260.1 64.5h1.4v1.1h-1.4zM315.8 65.0h1.2v0.9h-1.2zM315.0 66.0h1.3v1.2h-1.3zM269.1 66.3h1.4v0.9h-1.4zM301.2 69.3h0.9v1.0h-0.9zM266.7 67.1h1.5v1.0h-1.5zM260.5 65.5h1.2v1.1h-1.2zM303.5 67.2h1.4v1.0h-1.4zM292.9 68.9h1.0v1.0h-1.0zM291.0 67.6h1.0v1.2h-1.0zM287.1 62.9h1.1v0.9h-1.1zM251.3 64.3h1.2v1.1h-1.2zM286.8 64.3h1.0v1.1h-1.0zM348.3 67.7h1.0v1.1h-1.0zM290.9 64.1h1.0v1.1h-1.0zM334.7 68.1h1.2v1.0h-1.2zM273.6 68.4h1.1v1.0h-1.1zM335.6 69.3h1.2v0.9h-1.2zM307.3 64.0h1.4v0.9h-1.4zM339.0 65.8h1.1v0.8h-1.1zM294.5 64.0h0.9v1.1h-0.9zM279.3 63.9h1.1v1.0h-1.1z" fill="#1a1a1a"/>
<path d="M294.8 68.3h1.3v0.9h-1.3zM347.1 70.7h0.9v1.1h-0.9zM344.7 70.4h1.0v1.1h-1.0zM316.2 66.5h0.9v1.2h-0.9zM318.6 67.5h1.0v0.8h-1.0zM274.4 68.3h1.1v0.8h-1.1zM344.6 70.4h1.0v1.1h-1.0zM313.6 69.5h1.3v1.1h-1.3zM332.4 70.2h1.0v1.1h-1.0zM305.5 69.1h1.2v1.1h-1.2zM308.0 67.2h1.0v0.8h-1.0zM301.5 66.2h1.2v0.8h-1.2zM301.3 68.0h1.2v1.1h-1.2zM250.6 67.9h1.2v1.0h-1.2zM319.6 69.9h1.1v0.9h-1.1zM350.5 67.7h1.3v1.0h-1.3zM252.9 67.0h1.3v1.2h-1.3zM284.5 69.4h1.2v1.0h-1.2zM343.9 67.3h1.3v1.0h-1.3zM285.4 69.0h1.1v0.9h-1.1zM304.9 69.2h1.0v0.9h-1.0zM294.1 68.0h1.4v0.9h-1.4zM336.6 68.6h1.2v0.9h-1.2zM302.9 69.9h1.3v1.1h-1.3zM284.5 66.8h1.1v1.0h-1.1zM316.4 69.5h0.9v1.1h-0.9zM342.6 69.3h0.9v0.9h-0.9zM250.6 65.3h1.5v1.0h-1.5zM318.8 69.6h1.4v1.0h-1.4zM314.5 68.9h1.3v1.0h-1.3zM321.2 67.4h1.3v0.9h-1.3zM329.8 67.2h1.0v0.7h-1.0zM331.0 70.5h1.3v0.9h-1.3zM336.0 70.1h1.2v0.8h-1.2zM281.5 67.1h1.1v0.9h-1.1zM317.1 70.2h0.9v1.0h-0.9zM254.0 65.1h1.4v1.0h-1.4zM346.1 69.0h0.9v0.9h-0.9zM311.9 70.0h1.5v0.9h-1.5zM293.1 66.1h1.3v0.8h-1.3zM265.8 65.0h0.9v1.0h-0.9zM262.6 68.7h1.0v1.1h-1.0zM263.4 65.0h1.3v0.8h-1.3zM326.7 67.5h0.9v1.1h-0.9zM324.6 70.1h1.3v0.8h-1.3zM315.7 69.2h1.2v1.2h-1.2zM276.5 69.1h1.3v0.7h-1.3zM251.4 67.1h1.4v0.8h-1.4zM282.5 68.4h1.0v1.1h-1.0zM300.8 66.2h1.1v1.0h-1.1zM295.8 68.5h1.0v1.1h-1.0zM287.9 68.2h1.3v0.9h-1.3zM290.3 68.8h1.5v1.1h-1.5zM309.2 67.4h0.9v1.2h-0.9zM323.5 69.9h1.1v1.0h-1.1zM352.2 70.8h1.3v0.9h-1.3zM294.8 69.3h1.1v1.0h-1.1zM312.9 69.9h1.4v0.9h-1.4zM250.1 65.6h1.2v1.0h-1.2zM335.3 70.5h0.9v1.1h-0.9zM334.9 70.4h1.2v0.9h-1.2zM339.0 70.3h1.3v1.2h-1.3zM286.2 65.9h1.2v1.1h-1.2zM270.9 68.1h1.5v0.8h-1.5zM313.4 69.0h1.2v0.8h-1.2zM276.6 68.3h1.4v0.9h-1.4zM259.1 68.0h1.4v0.8h-1.4zM310.6 69.8h1.4v1.0h-1.4zM299.8 68.3h1.0v0.8h-1.0zM268.8 67.8h1.1v1.0h-1.1zM292.0 67.8h1.0v0.7h-1.0zM354.3 69.0h1.0v1.0h-1.0zM332.3 67.5h1.3v0.9h-1.3zM304.3 66.1h0.9v1.2h-0.9zM340.6 69.0h1.2v0.8h-1.2zM331.5 68.5h1.5v1.1h-1.5zM335.6 70.8h1.1v0.7h-1.1zM270.9 65.8h1.0v0.7h-1.0zM308.3 69.7h1.2v1.2h-1.2zM345.2 67.5h1.3v0.9h-1.3zM262.5 68.7h1.1v1.0h-1.1zM317.0 70.2h1.3v0.9h-1.3zM296.8 66.5h1.5v1.2h-1.5zM273.1 65.3h1.1v0.9h-1.1zM344.4 70.8h1.4v0.7h-1.4zM332.2 69.7h1.3v1.2h-1.3zM255.7 65.2h1.4v1.2h-1.4zM320.8 67.7h1.3v1.1h-1.3zM260.9 66.1h1.1v0.8h-1.1zM300.3 66.6h1.0v0.8h-1.0zM320.8 66.6h1.3v0.8h-1.3zM253.7 68.3h1.0v1.2h-1.0zM340.6 70.7h1.0v0.9h-1.0zM260.1 68.5h1.4v1.0h-1.4zM297.3 67.2h1.4v0.9h-1.4zM315.7 67.0h1.0v0.7h-1.0zM324.6 68.9h1.0v1.1h-1.0zM277.8 66.9h1.0v0.9h-1.0zM337.8 68.4h1.0v1.0h-1.0zM283.2 69.1h1.0v1.2h-1.0zM255.9 68.3h1.3v0.8h-1.3zM299.9 67.1h1.1v0.8h-1.1zM288.0 69.6h1.5v1.2h-1.5zM260.1 66.0h1.4v0.7h-1.4zM326.0 67.9h1.5v0.7h-1.5zM334.4 68.3h1.0v0.7h-1.0zM337.0 69.1h1.0v0.9h-1.0zM345.4 68.1h1.2v0.8h-1.2zM268.8 68.1h1.3v0.8h-1.3zM258.2 65.1h1.3v1.0h-1.3zM278.6 66.1h1.3v1.1h-1.3zM334.9 69.3h1.0v0.8h-1.0zM326.6 68.3h1.3v0.7h-1.3zM334.8 68.3h1.4v1.1h-1.4zM301.5 66.0h1.4v0.9h-1.4zM341.2 68.2h1.0v1.1h-1.0zM288.3 66.3h1.1v1.0h-1.1zM250.4 66.6h1.2v1.0h-1.2zM262.5 67.7h1.4v1.1h-1.4zM283.5 68.3h1.1v1.1h-1.1zM256.3 68.2h1.5v1.0h-1.5zM303.6 68.2h1.2v0.7h-1.2zM351.2 68.3h1.0v0.8h-1.0zM276.1 68.5h0.9v0.8h-0.9zM323.1 67.4h0.9v1.0h-0.9zM310.3 68.3h1.3v0.8h-1.3zM340.9 70.0h0.9v0.8h-0.9zM301.6 68.0h1.1v0.8h-1.1zM292.4 66.3h1.3v1.1h-1.3zM265.3 67.2h1.3v0.8h-1.3zM336.4 70.7h1.1v0.9h-1.1zM337.8 69.1h1.1v1.2h-1.1zM331.2 68.2h1.0v0.9h-1.0zM295.5 69.7h1.4v1.2h-1.4zM335.2 70.3h0.9v1.0h-0.9zM350.2 71.1h1.0v0.9h-1.0zM316.1 67.9h1.2v0.8h-1.2zM295.2 67.8h0.9v0.8h-0.9zM351.4 70.5h1.5v1.0h-1.5zM334.6 70.5h1.4v0.7h-1.4zM317.1 67.5h1.3v0.9h-1.3zM306.7 69.8h1.3v0.8h-1.3zM304.4 67.8h1.5v0.9h-1.5zM281.9 68.0h1.0v1.0h-1.0zM350.0 69.4h1.1v0.9h-1.1zM305.8 66.7h1.0v0.8h-1.0zM280.6 67.0h1.1v0.8h-1.1zM259.1 66.9h1.4v1.0h-1.4zM309.6 68.8h1.0v1.1h-1.0zM298.2 68.1h1.3v0.9h-1.3z" fill="#222"/>
<path d="M282.4 58.9h0.8v0.7h-0.8zM290.0 60.5h0.7v0.7h-0.7zM340.1 60.5h0.9v0.7h-0.9zM279.7 61.8h0.8v0.8h-0.8zM266.5 57.7h1.0v0.7h-1.0zM256.4 58.7h0.9v0.8h-0.9zM261.3 58.2h1.1v0.8h-1.1zM266.1 58.8h0.8v0.8h-0.8zM314.4 62.2h1.0v0.7h-1.0zM327.2 62.2h1.0v0.7h-1.0zM332.1 62.2h1.1v0.6h-1.1zM341.1 59.6h1.0v0.7h-1.0zM302.0 62.3h0.9v0.7h-0.9zM332.0 62.8h0.9v0.7h-0.9z" fill="#333"/>
<path d="M277.6 111.1h1.3v1.1h-1.3zM270.5 104.6h1.8v1.5h-1.8zM276.2 102.6h1.3v0.9h-1.3zM291.6 101.6h1.9v1.1h-1.9zM327.5 114.9h1.2v1.1h-1.2zM249.9 99.3h1.6v1.2h-1.6zM317.6 109.0h2.0v1.2h-2.0zM305.0 106.6h1.4v1.3h-1.4zM345.5 111.3h1.5v0.9h-1.5zM272.0 108.5h1.6v1.5h-1.6zM280.7 106.7h1.6v1.6h-1.6zM285.5 112.7h1.2v1.1h-1.2zM325.6 108.8h1.1v1.5h-1.1zM324.7 115.4h1.9v1.1h-1.9zM262.7 107.5h1.5v1.0h-1.5zM297.6 109.6h1.4v1.6h-1.4zM250.4 105.5h1.8v1.0h-1.8zM249.9 103.7h1.8v1.3h-1.8zM256.5 107.1h1.6v1.0h-1.6zM285.7 115.5h1.6v1.1h-1.6zM254.4 111.5h1.1v0.9h-1.1zM284.6 112.8h1.6v1.4h-1.6zM250.0 111.6h1.3v1.4h-1.3zM255.0 103.2h1.1v1.5h-1.1zM267.4 106.6h1.4v0.8h-1.4zM291.7 114.9h1.4v1.3h-1.4zM250.4 114.3h1.9v1.1h-1.9zM324.0 105.9h1.6v1.6h-1.6zM345.8 105.8h1.4v1.4h-1.4zM264.1 113.5h1.5v1.4h-1.5zM255.2 104.7h1.2v1.6h-1.2zM289.2 101.9h1.5v1.1h-1.5zM250.9 100.6h1.8v1.1h-1.8zM256.2 103.5h1.2v0.8h-1.2zM266.7 101.8h1.7v0.9h-1.7zM327.0 103.6h1.4v1.5h-1.4zM254.5 104.6h1.7v1.1h-1.7zM257.2 114.7h1.5v1.0h-1.5zM253.2 110.6h1.3v1.5h-1.3zM269.0 103.3h1.6v1.0h-1.6zM252.9 107.3h1.5v1.0h-1.5zM270.5 110.0h1.6v1.0h-1.6zM251.5 101.6h1.9v1.1h-1.9zM252.3 108.1h1.4v1.2h-1.4zM250.9 103.8h1.2v0.9h-1.2zM262.1 105.7h1.9v1.4h-1.9zM331.1 103.8h1.3v0.8h-1.3zM302.0 105.9h1.4v1.3h-1.4zM259.7 113.0h1.4v1.3h-1.4zM252.6 114.0h1.7v1.4h-1.7zM250.3 101.3h1.2v1.0h-1.2zM250.3 103.8h1.6v0.9h-1.6zM290.2 111.2h1.3v1.1h-1.3zM267.4 99.3h1.8v1.4h-1.8zM250.4 113.0h1.6v0.8h-1.6zM252.4 112.0h1.2v1.5h-1.2zM251.5 110.3h1.4v1.4h-1.4zM262.0 100.5h1.9v1.1h-1.9zM305.8 111.7h1.8v1.3h-1.8zM250.6 110.4h1.4v1.2h-1.4zM253.1 111.5h1.0v1.4h-1.0zM260.6 108.0h2.0v1.3h-2.0zM259.8 99.9h1.4v1.1h-1.4zM264.2 101.4h1.7v1.3h-1.7zM259.3 107.5h1.4v1.5h-1.4zM263.4 113.6h1.1v1.3h-1.1zM323.9 109.3h1.8v0.9h-1.8zM293.7 107.4h1.8v1.5h-1.8zM262.6 105.0h1.2v0.8h-1.2zM256.5 110.5h1.4v0.9h-1.4zM278.8 105.5h1.2v0.9h-1.2zM353.2 112.4h1.1v1.4h-1.1zM289.4 101.9h1.5v1.1h-1.5zM287.0 100.2h1.9v1.3h-1.9zM343.3 111.0h1.3v1.0h-1.3zM250.1 111.7h1.8v1.0h-1.8zM298.7 113.2h1.9v0.9h-1.9zM326.2 112.0h1.3v0.9h-1.3zM265.0 105.2h1.6v1.1h-1.6zM259.1 99.6h1.6v1.3h-1.6zM307.8 114.1h1.9v1.2h-1.9zM254.4 103.7h1.6v0.9h-1.6zM254.7 106.1h2.0v0.9h-2.0zM275.8 102.6h1.7v0.8h-1.7zM330.2 112.6h1.4v1.0h-1.4zM283.7 106.5h1.3v1.2h-1.3zM325.6 114.2h1.2v1.0h-1.2zM289.4 105.5h1.2v0.9h-1.2zM277.9 115.0h1.9v1.5h-1.9zM347.9 110.6h1.8v0.8h-1.8zM295.0 104.9h1.6v1.6h-1.6zM299.9 105.1h1.3v1.5h-1.3zM256.1 110.1h1.4v0.9h-1.4zM269.4 108.7h1.4v1.2h-1.4zM271.6 101.3h1.2v1.5h-1.2zM252.4 113.2h1.3v0.9h-1.3zM259.9 107.0h1.6v1.0h-1.6zM252.5 107.3h1.6v0.9h-1.6zM251.1 106.0h1.9v1.2h-1.9zM315.1 102.9h2.0v1.4h-2.0zM326.2 107.2h1.2v1.6h-1.2zM317.8 103.3h1.8v0.8h-1.8zM269.4 99.6h1.6v1.0h-1.6zM308.0 107.2h1.9v1.3h-1.9zM289.3 114.2h1.9v0.9h-1.9zM266.7 111.7h1.7v1.5h-1.7zM269.5 111.3h1.9v1.4h-1.9zM294.3 101.9h1.5v1.4h-1.5zM341.7 111.3h1.3v1.0h-1.3zM327.5 109.8h1.1v0.8h-1.1zM321.7 104.2h1.6v1.0h-1.6zM270.2 101.7h1.9v1.2h-1.9zM322.8 114.8h1.0v1.1h-1.0zM282.3 113.5h1.8v0.8h-1.8zM324.4 111.1h1.4v1.2h-1.4zM328.6 107.2h1.9v1.3h-1.9zM265.7 102.7h1.9v1.3h-1.9zM255.0 104.8h1.5v1.3h-1.5zM267.8 99.4h1.6v1.1h-1.6zM277.8 115.3h1.0v0.9h-1.0zM261.4 103.5h1.5v1.0h-1.5zM285.3 114.8h2.0v0.8h-2.0zM317.2 113.7h1.8v1.3h-1.8zM268.6 103.9h1.8v1.5h-1.8zM304.4 105.3h1.8v1.4h-1.8zM298.3 105.8h1.6v1.1h-1.6zM266.4 104.5h2.0v1.2h-2.0zM259.4 102.8h1.3v0.9h-1.3zM332.7 108.1h1.4v1.3h-1.4zM255.0 99.8h1.3v1.0h-1.3zM287.9 114.5h1.3v1.5h-1.3zM251.3 101.6h1.6v1.6h-1.6zM317.7 107.4h1.9v0.9h-1.9zM337.3 105.9h1.3v0.8h-1.3zM261.1 110.6h1.2v1.1h-1.2zM294.2 113.4h1.6v1.0h-1.6zM348.1 110.4h1.1v1.4h-1.1zM266.7 101.4h1.2v1.2h-1.2zM298.9 114.4h1.2v1.1h-1.2zM300.1 106.7h1.7v1.1h-1.7zM273.3 100.2h1.6v1.1h-1.6zM293.6 104.3h1.5v0.8h-1.5zM289.5 115.3h1.1v1.3h-1.1zM265.7 100.7h1.2v0.9h-1.2zM251.6 112.4h1.4v1.2h-1.4zM288.4 110.2h1.6v1.1h-1.6zM260.4 110.7h1.8v1.4h-1.8zM317.4 115.2h1.5v1.0h-1.5zM344.3 104.3h1.0v1.2h-1.0zM317.7 106.5h2.0v1.0h-2.0zM251.6 99.0h1.1v0.8h-1.1zM288.4 102.9h1.9v1.1h-1.9zM255.4 111.1h1.9v0.9h-1.9zM318.2 104.8h2.0v1.2h-2.0zM267.0 112.3h1.5v1.1h-1.5zM252.3 111.0h1.1v1.3h-1.1zM331.6 102.8h1.6v1.1h-1.6zM345.0 110.7h1.2v1.0h-1.2zM275.2 103.3h1.2v1.4h-1.2zM263.3 115.4h1.2v1.3h-1.2zM331.4 113.7h1.3v1.4h-1.3zM262.1 104.5h1.5v1.5h-1.5zM304.6 109.6h1.5v1.3h-1.5zM257.3 113.6h1.4v1.4h-1.4zM255.7 113.2h2.0v1.0h-2.0zM252.4 115.1h1.0v1.5h-1.0zM312.1 102.6h1.2v1.3h-1.2zM266.6 114.2h1.7v1.5h-1.7zM250.2 102.5h1.8v1.4h-1.8zM282.7 103.5h1.4v0.9h-1.4zM353.0 106.9h1.9v0.9h-1.9zM253.4 105.9h1.2v1.3h-1.2zM312.4 108.4h1.1v1.1h-1.1zM340.5 107.0h1.2v1.6h-1.2zM311.4 105.1h1.2v1.0h-1.2zM250.4 107.2h1.4v1.2h-1.4zM249.9 110.2h1.7v1.2h-1.7zM305.7 115.2h1.9v1.4h-1.9zM264.9 106.0h2.0v1.1h-2.0zM272.9 101.8h2.0v0.8h-2.0zM341.8 105.8h1.6v1.1h-1.6zM256.6 100.7h1.8v1.4h-1.8zM250.5 110.3h1.3v1.3h-1.3zM264.6 115.0h1.0v1.4h-1.0zM283.2 109.2h2.0v1.0h-2.0zM313.1 106.6h1.7v1.1h-1.7zM295.4 110.6h1.3v1.3h-1.3zM258.1 109.0h1.3v1.5h-1.3zM310.0 108.6h1.5v1.0h-1.5zM342.0 109.4h1.5v1.2h-1.5zM259.1 101.8h1.8v1.2h-1.8zM325.8 114.0h1.9v0.8h-1.9zM326.5 113.0h1.1v0.9h-1.1zM252.1 104.6h1.8v1.2h-1.8zM251.6 105.3h2.0v1.4h-2.0zM279.8 112.3h1.8v0.9h-1.8zM268.9 107.7h1.2v1.1h-1.2zM270.2 99.7h1.2v1.3h-1.2zM255.5 110.8h1.3v1.1h-1.3zM326.8 103.1h1.6v1.5h-1.6zM274.2 112.2h1.6v1.1h-1.6zM276.1 105.5h1.7v1.0h-1.7zM300.0 112.7h1.4v1.1h-1.4zM341.6 104.9h2.0v1.4h-2.0zM302.3 105.6h1.1v1.4h-1.1zM285.0 107.7h1.9v1.4h-1.9zM292.9 107.4h1.5v1.5h-1.5zM279.3 113.8h1.4v1.2h-1.4zM325.3 111.0h1.7v1.1h-1.7zM304.2 109.0h1.8v1.4h-1.8z" fill="#fff"/>
<path d="M262.3 103.9h0.9v1.1h-0.9zM260.5 101.7h1.4v1.0h-1.4zM255.7 111.3h1.3v1.0h-1.3zM255.6 111.4h1.2v1.0h-1.2zM354.4 113.9h1.4v0.8h-1.4zM284.9 109.0h0.9v1.2h-0.9zM278.7 104.8h1.1v0.8h-1.1zM339.8 110.1h1.2v0.9h-1.2zM255.3 105.1h1.4v1.1h-1.4zM339.6 105.8h1.0v0.7h-1.0zM306.1 107.0h1.2v1.0h-1.2zM311.0 107.0h1.4v0.8h-1.4zM346.2 110.2h0.9v0.9h-0.9zM305.7 107.5h1.2v0.9h-1.2zM278.5 113.3h1.1v1.1h-1.1zM333.9 110.6h1.2v1.2h-1.2zM296.5 114.6h0.9v0.9h-0.9zM316.8 102.3h1.4v0.8h-1.4zM312.3 104.2h1.5v1.0h-1.5zM333.7 109.2h1.3v1.0h-1.3zM280.8 104.1h1.4v0.8h-1.4zM346.0 105.2h1.0v0.8h-1.0zM332.0 115.8h1.1v1.0h-1.1zM276.9 115.0h1.3v0.8h-1.3zM255.8 111.5h0.9v1.1h-0.9zM280.6 104.4h1.2v0.9h-1.2zM308.6 103.7h1.4v0.9h-1.4zM338.0 104.3h1.4v1.2h-1.4zM290.9 101.5h1.1v1.0h-1.1zM273.3 109.3h1.0v0.9h-1.0zM326.1 108.1h1.3v0.8h-1.3zM336.6 103.8h1.5v1.2h-1.5zM348.3 109.8h1.1v0.9h-1.1zM328.5 109.1h1.5v0.8h-1.5zM300.7 114.4h1.3v1.0h-1.3zM259.2 102.5h1.1v1.1h-1.1zM338.4 105.4h1.5v0.7h-1.5zM312.6 116.0h1.1v1.2h-1.1zM318.6 102.4h1.1v0.9h-1.1zM275.8 112.4h1.0v1.1h-1.0zM281.1 101.8h1.2v0.8h-1.2zM307.6 113.3h1.3v0.9h-1.3zM253.4 108.5h1.0v1.0h-1.0zM263.7 109.7h1.1v0.9h-1.1zM319.3 104.1h1.0v1.2h-1.0zM284.6 114.0h1.4v1.0h-1.4zM265.5 101.9h1.4v0.8h-1.4zM301.8 109.4h1.0v0.9h-1.0zM267.1 109.0h1.2v0.9h-1.2zM270.6 107.0h1.0v0.8h-1.0zM275.0 114.5h1.2v1.1h-1.2zM251.5 115.6h1.2v1.1h-1.2zM309.6 111.8h1.0v1.1h-1.0zM266.0 104.6h0.9v0.9h-0.9zM304.1 105.7h1.4v0.8h-1.4zM310.5 105.0h1.3v1.1h-1.3zM324.3 102.7h1.0v1.0h-1.0zM352.8 103.0h1.3v1.1h-1.3zM335.2 107.0h1.4v0.9h-1.4zM346.3 102.5h1.5v0.9h-1.5zM292.5 102.4h1.0v1.1h-1.0zM321.0 103.9h1.1v0.8h-1.1zM270.7 104.0h1.1v1.2h-1.1zM354.3 113.6h1.2v1.0h-1.2zM331.5 115.2h1.4v1.0h-1.4zM270.7 110.5h1.4v1.1h-1.4zM259.6 111.9h1.1v0.8h-1.1zM351.0 111.9h1.3v0.8h-1.3zM336.6 115.6h1.4v1.1h-1.4zM337.1 113.6h1.3v0.9h-1.3zM336.3 113.4h1.4v0.9h-1.4zM350.5 109.9h1.5v0.8h-1.5zM351.3 113.5h1.1v1.1h-1.1zM274.2 103.7h1.2v0.8h-1.2zM301.5 115.1h1.3v1.1h-1.3zM290.9 113.1h1.4v1.0h-1.4zM348.5 114.0h1.1v0.8h-1.1zM318.2 114.1h1.1v1.0h-1.1zM337.5 113.5h0.9v1.0h-0.9zM251.6 101.9h1.4v0.9h-1.4zM313.2 108.4h1.1v0.8h-1.1zM286.9 114.1h1.3v0.9h-1.3zM259.1 104.6h1.3v0.9h-1.3zM319.1 113.6h1.0v1.0h-1.0zM254.2 113.6h1.0v0.9h-1.0zM350.2 107.5h1.0v1.1h-1.0zM313.8 114.9h1.1v1.0h-1.1zM350.0 109.5h1.5v0.8h-1.5zM336.9 104.4h1.2v0.7h-1.2zM268.3 115.6h1.2v1.1h-1.2zM276.2 106.2h1.0v1.0h-1.0zM340.2 109.5h1.1v1.2h-1.1zM343.5 111.7h0.9v1.0h-0.9zM296.4 115.9h1.1v1.0h-1.1zM316.1 107.2h1.2v1.0h-1.2zM344.9 109.4h1.1v1.2h-1.1zM255.9 113.8h1.3v1.0h-1.3zM296.8 112.7h1.4v1.1h-1.4zM328.4 102.4h1.1v0.8h-1.1zM349.7 115.0h1.0v1.0h-1.0zM310.3 102.1h1.1v1.1h-1.1zM317.1 105.8h1.4v0.9h-1.4zM306.9 107.7h1.5v1.0h-1.5zM334.2 111.8h1.1v1.2h-1.1zM324.2 111.9h1.1v0.8h-1.1zM310.1 113.9h1.4v0.9h-1.4zM264.5 108.7h1.4v0.8h-1.4zM327.2 104.3h1.1v0.7h-1.1zM281.1 106.8h1.5v1.2h-1.5zM269.5 105.4h1.5v0.8h-1.5zM283.5 107.7h1.0v0.8h-1.0zM291.1 107.0h1.5v0.8h-1.5zM271.3 115.0h1.2v1.1h-1.2zM316.6 113.2h1.1v0.8h-1.1zM329.2 108.8h1.2v1.0h-1.2zM328.7 105.9h1.1v1.2h-1.1zM305.3 105.7h1.3v0.8h-1.3zM330.7 102.5h1.4v1.0h-1.4zM286.9 115.6h1.1v0.8h-1.1zM257.2 109.1h1.4v1.0h-1.4zM293.1 113.5h1.0v0.9h-1.0zM317.4 116.0h1.3v1.1h-1.3zM331.0 107.7h1.5v1.1h-1.5zM285.7 107.0h1.4v0.9h-1.4zM269.3 114.4h1.2v1.0h-1.2zM320.0 115.0h1.0v0.9h-1.0zM256.8 106.9h1.2v1.1h-1.2zM319.8 110.2h1.1v1.0h-1.1zM278.6 114.0h1.4v1.1h-1.4zM265.7 111.2h1.4v1.0h-1.4zM344.0 115.1h1.3v1.1h-1.3zM317.8 114.7h1.0v1.1h-1.0zM323.6 110.8h1.1v0.8h-1.1zM313.1 113.9h1.1v0.8h-1.1zM273.3 102.1h1.3v1.2h-1.3zM333.9 107.2h1.3v0.8h-1.3zM337.7 106.8h0.9v1.0h-0.9zM264.4 104.8h0.9v0.9h-0.9zM308.0 113.6h0.9v1.1h-0.9zM261.5 103.9h1.3v0.9h-1.3zM284.6 109.7h1.0v1.1h-1.0zM271.8 113.9h1.4v1.0h-1.4zM253.1 112.9h0.9v1.0h-0.9zM294.3 102.0h1.3v1.1h-1.3zM311.1 107.5h1.2v1.0h-1.2zM273.6 114.4h1.5v1.1h-1.5zM350.6 107.0h1.5v0.8h-1.5zM299.9 103.2h1.2v1.0h-1.2zM324.1 108.5h1.1v0.8h-1.1zM292.1 105.4h1.0v1.1h-1.0zM303.9 108.0h1.0v1.1h-1.0zM270.5 104.7h1.2v1.1h-1.2zM351.8 113.0h1.5v1.2h-1.5zM325.5 112.4h0.9v0.8h-0.9zM251.3 114.3h1.3v1.0h-1.3zM277.5 106.3h1.0v1.0h-1.0zM353.7 106.8h0.9v0.8h-0.9zM287.1 114.9h1.4v0.9h-1.4zM260.6 102.0h1.0v1.1h-1.0zM299.2 116.4h1.4v1.1h-1.4zM299.8 113.8h1.0v0.8h-1.0zM308.9 109.1h1.0v0.8h-1.0zM252.1 115.0h1.3v1.2h-1.3zM352.6 108.6h1.3v0.9h-1.3zM334.9 114.2h1.0v0.7h-1.0zM272.3 109.9h1.1v0.7h-1.1zM336.8 113.4h1.2v0.7h-1.2zM343.0 109.8h0.9v0.9h-0.9zM315.3 114.8h1.2v1.0h-1.2zM271.4 104.4h1.4v0.9h-1.4z" fill="#111"/>
<path d="M331.6 103.8h0.9v0.8h-0.9zM334.3 111.9h1.0v0.7h-1.0zM289.6 108.2h1.0v0.9h-1.0zM307.4 110.9h1.1v0.8h-1.1zM349.8 110.5h0.8v0.7h-0.8zM306.5 107.2h1.2v1.0h-1.2zM340.5 102.7h0.8v1.0h-0.8zM287.5 101.9h0.9v1.0h-0.9zM336.4 115.0h1.1v1.0h-1.1zM300.0 101.7h1.2v0.7h-1.2zM338.7 104.8h1.2v0.7h-1.2zM295.4 112.9h1.2v1.0h-1.2zM346.6 109.9h1.2v0.8h-1.2zM331.8 113.2h0.8v0.7h-0.8zM311.4 107.3h0.8v0.9h-0.8zM345.4 113.4h1.0v0.7h-1.0zM304.7 107.7h0.9v1.0h-0.9zM315.9 103.1h1.2v1.0h-1.2zM295.0 106.7h1.0v0.9h-1.0zM332.5 115.7h1.2v0.6h-1.2zM296.2 111.5h1.1v0.8h-1.1zM319.7 110.5h1.1v1.0h-1.1zM343.6 114.8h1.2v0.9h-1.2zM337.0 113.9h1.0v1.0h-1.0zM351.6 108.4h1.2v0.7h-1.2zM315.6 106.4h0.8v0.8h-0.8zM335.4 115.1h1.2v1.0h-1.2zM341.1 106.0h0.9v0.8h-0.9zM306.7 114.4h1.3v0.8h-1.3zM342.4 114.5h1.2v0.9h-1.2zM345.2 106.6h1.1v0.8h-1.1zM352.8 104.6h1.1v0.9h-1.1zM351.3 108.0h1.3v0.9h-1.3zM293.7 104.4h0.9v1.0h-0.9zM309.0 111.9h1.3v0.7h-1.3zM337.3 111.7h1.2v0.9h-1.2zM308.8 102.0h1.1v0.7h-1.1zM352.7 111.2h1.1v0.9h-1.1zM337.8 106.4h0.8v0.7h-0.8zM316.5 103.8h0.9v0.8h-0.9zM337.4 105.9h1.2v0.7h-1.2zM312.3 107.5h1.1v0.8h-1.1zM294.3 115.0h1.0v1.0h-1.0zM345.4 105.4h1.2v1.0h-1.2zM310.4 101.8h0.9v1.0h-0.9zM335.7 110.3h1.1v0.7h-1.1zM294.5 115.7h1.0v0.9h-1.0zM306.1 102.5h0.8v1.0h-0.8zM352.7 107.4h1.2v0.7h-1.2zM308.3 106.9h1.1v0.7h-1.1zM343.6 106.2h1.0v0.9h-1.0zM303.6 104.7h1.0v0.8h-1.0zM324.1 114.2h0.8v0.9h-0.8zM307.0 102.0h1.0v0.7h-1.0zM338.8 103.5h0.9v0.8h-0.9zM306.7 107.9h0.9v0.7h-0.9zM323.9 115.1h1.1v0.7h-1.1zM340.6 110.0h1.2v1.0h-1.2zM295.8 115.2h1.1v0.7h-1.1zM347.4 105.3h0.8v0.7h-0.8zM323.3 112.2h0.8v0.8h-0.8zM304.6 111.1h1.0v0.7h-1.0zM324.7 104.4h0.8v0.9h-0.8zM285.5 108.1h1.2v0.9h-1.2zM325.8 110.4h1.1v0.7h-1.1zM351.7 112.5h1.2v0.8h-1.2zM302.5 104.8h1.1v1.0h-1.1zM305.5 102.0h1.0v0.7h-1.0zM340.9 110.3h1.3v0.8h-1.3zM283.4 115.2h0.9v0.8h-0.9zM351.9 109.1h1.3v0.9h-1.3zM345.7 105.1h1.3v0.8h-1.3zM352.6 106.8h1.0v0.8h-1.0zM285.2 106.7h0.9v1.0h-0.9zM332.6 105.7h1.0v0.9h-1.0zM298.5 104.9h0.9v1.0h-0.9zM298.5 109.0h1.1v1.0h-1.1zM307.0 104.0h1.1v0.8h-1.1zM348.7 111.4h1.2v1.0h-1.2zM351.5 108.0h0.8v1.0h-0.8zM284.3 105.4h0.9v1.0h-0.9zM320.6 109.3h1.2v1.0h-1.2zM326.7 103.6h0.9v0.9h-0.9zM343.9 114.6h1.3v0.7h-1.3zM349.2 110.2h0.9v0.9h-0.9zM307.1 106.8h1.1v0.9h-1.1zM340.5 110.8h1.0v0.9h-1.0zM282.8 108.2h1.1v0.9h-1.1zM302.4 115.4h1.2v0.7h-1.2zM352.4 105.3h1.0v1.0h-1.0zM306.8 112.2h1.0v0.9h-1.0zM297.6 104.6h0.9v0.7h-0.9zM298.4 107.3h1.0v0.7h-1.0zM351.6 110.3h1.0v0.9h-1.0zM302.0 108.5h0.8v0.9h-0.8zM317.1 115.5h1.2v1.0h-1.2zM334.2 111.9h1.3v0.7h-1.3zM312.1 105.3h1.2v0.9h-1.2zM347.9 110.4h0.9v0.6h-0.9zM339.6 106.0h0.8v0.6h-0.8zM337.9 102.2h0.9v0.7h-0.9zM353.9 102.7h0.9v1.0h-0.9zM299.6 106.3h1.1v0.8h-1.1zM324.5 105.5h0.8v0.7h-0.8zM293.9 110.5h1.1v0.7h-1.1zM339.8 106.9h1.0v0.7h-1.0zM329.7 102.7h0.9v0.9h-0.9zM339.1 105.4h1.2v1.0h-1.2zM331.3 104.7h1.2v1.0h-1.2zM306.7 102.9h1.1v0.9h-1.1zM303.5 109.9h0.9v0.9h-0.9zM308.9 107.7h1.1v0.9h-1.1zM339.5 105.2h0.9v0.9h-0.9zM333.0 114.6h0.9v0.8h-0.9zM309.1 103.9h0.9v0.9h-0.9zM339.0 115.4h1.2v0.8h-1.2zM339.3 103.0h1.1v0.7h-1.1zM326.8 104.1h1.3v1.0h-1.3zM303.9 103.2h1.1v0.8h-1.1zM339.0 109.5h1.2v0.7h-1.2zM318.3 108.7h0.9v0.9h-0.9zM313.4 108.5h1.2v0.9h-1.2zM322.4 115.0h1.3v0.9h-1.3zM323.0 110.9h0.9v0.7h-0.9zM349.8 104.2h1.0v0.9h-1.0zM291.3 112.3h1.2v0.8h-1.2zM318.8 103.1h1.3v0.7h-1.3zM342.0 104.1h0.9v0.7h-0.9zM327.9 113.7h0.9v0.7h-0.9zM321.0 106.6h0.9v0.7h-0.9zM296.5 105.1h1.2v1.0h-1.2zM324.1 115.4h1.1v0.8h-1.1zM339.0 112.3h0.9v0.7h-0.9zM295.5 113.3h1.0v0.7h-1.0zM323.9 115.9h0.9v1.0h-0.9zM301.8 112.3h1.0v0.7h-1.0zM345.0 114.1h1.1v0.6h-1.1zM332.5 114.6h1.3v0.8h-1.3zM344.9 105.9h1.0v0.8h-1.0zM317.7 103.3h0.9v1.0h-0.9zM334.3 114.4h1.2v0.7h-1.2zM344.0 115.9h1.2v0.9h-1.2zM308.5 111.0h1.0v1.0h-1.0zM328.4 106.7h1.2v0.8h-1.2zM346.5 114.3h0.9v1.0h-0.9zM336.7 111.2h0.8v1.0h-0.8zM323.0 106.7h1.2v1.0h-1.2zM305.3 106.4h0.9v0.7h-0.9zM285.7 113.0h0.9v0.7h-0.9zM340.5 105.0h1.0v0.8h-1.0zM352.2 106.6h1.1v1.0h-1.1zM349.3 112.4h1.0v1.0h-1.0zM295.4 109.9h1.2v0.8h-1.2zM320.4 114.3h1.1v0.7h-1.1zM316.7 115.4h1.1v0.7h-1.1zM287.0 109.9h1.0v0.9h-1.0zM294.0 109.0h1.2v1.0h-1.2zM306.0 112.3h1.2v0.7h-1.2zM354.2 108.3h1.0v0.9h-1.0zM304.3 105.9h1.0v0.9h-1.0z" fill="#a8a8a8"/>
<path d="M269.5 97.9h1.0v0.9h-1.0zM264.9 100.2h1.2v0.8h-1.2zM333.2 97.8h1.2v0.8h-1.2zM329.4 101.5h0.9v0.9h-0.9zM271.6 94.9h1.0v0.9h-1.0zM344.2 102.5h1.0v0.9h-1.0zM308.5 96.8h1.1v0.9h-1.1zM294.3 99.0h0.9v0.7h-0.9zM293.9 98.4h1.0v0.7h-1.0zM250.5 96.1h1.1v0.9h-1.1zM274.7 96.3h1.0v0.7h-1.0zM313.0 101.3h0.9v0.8h-0.9zM325.4 100.7h1.1v0.9h-1.1zM278.4 99.9h1.2v0.7h-1.2zM348.8 99.8h0.8v0.7h-0.8zM333.3 100.6h0.9v0.8h-0.9zM316.8 101.9h0.9v0.9h-0.9zM275.6 96.0h0.9v0.8h-0.9zM314.6 97.9h0.9v0.7h-0.9zM258.8 95.4h0.9v0.8h-0.9zM269.1 97.5h1.0v1.0h-1.0zM300.8 101.1h1.0v0.7h-1.0zM311.9 96.9h0.9v0.7h-0.9zM323.3 101.9h1.0v0.8h-1.0zM294.4 97.5h1.1v0.8h-1.1zM265.8 99.7h1.0v0.6h-1.0zM338.8 101.0h0.9v0.8h-0.9zM346.2 99.4h1.0v0.7h-1.0zM307.9 99.7h1.1v0.9h-1.1zM265.1 96.7h1.1v0.9h-1.1zM311.7 99.9h0.9v0.9h-0.9zM307.4 98.2h0.9v0.7h-0.9zM343.9 101.6h0.8v0.7h-0.8zM300.1 98.5h0.9v0.9h-0.9zM286.5 98.3h1.2v0.8h-1.2zM299.8 97.6h1.0v0.8h-1.0zM332.2 98.2h0.9v0.8h-0.9zM287.9 100.6h1.0v0.7h-1.0zM284.7 100.0h0.9v0.9h-0.9zM252.2 95.2h0.8v0.9h-0.8zM265.3 95.9h0.8v0.7h-0.8zM326.7 100.6h1.2v0.9h-1.2zM307.6 101.2h0.8v0.9h-0.8zM295.3 96.6h1.1v0.9h-1.1zM290.3 95.9h1.1v0.9h-1.1zM312.4 101.7h0.8v0.7h-0.8zM262.9 94.6h1.1v0.8h-1.1zM261.7 95.4h0.9v0.8h-0.9zM320.3 101.8h0.9v1.0h-0.9zM295.4 97.8h0.9v0.7h-0.9zM351.9 102.9h1.1v0.7h-1.1zM268.7 95.5h0.9v0.9h-0.9zM256.1 97.4h1.1v0.7h-1.1zM295.9 100.1h1.0v0.8h-1.0zM342.2 100.4h0.9v0.8h-0.9zM348.7 102.1h1.2v0.8h-1.2zM264.8 95.5h1.0v0.9h-1.0zM250.4 98.8h1.1v0.8h-1.1zM250.5 98.8h1.0v0.9h-1.0zM309.6 100.2h1.0v0.9h-1.0zM349.9 102.5h1.0v0.7h-1.0zM289.3 96.9h1.2v0.9h-1.2zM332.4 101.4h1.2v0.9h-1.2zM283.2 99.5h0.9v0.8h-0.9zM266.5 99.6h1.0v0.7h-1.0zM346.5 97.7h1.2v0.9h-1.2zM265.5 99.0h1.0v0.9h-1.0zM311.3 98.5h1.2v0.7h-1.2zM331.3 97.3h0.9v0.7h-0.9zM341.1 99.5h1.1v0.7h-1.1z" fill="#2a2a2a"/>
<path d="M242.6 74.7h1.0v1.0h-1.0zM242.4 71.2h1.3v0.9h-1.3zM234.8 76.9h1.5v1.2h-1.5zM236.0 74.1h1.4v1.1h-1.4zM236.7 76.4h1.1v1.2h-1.1zM237.0 70.4h1.3v0.8h-1.3zM241.5 69.9h1.5v1.0h-1.5zM242.8 70.5h1.3v0.9h-1.3zM232.2 76.0h0.9v0.9h-0.9zM228.7 76.3h1.4v0.7h-1.4zM236.8 73.3h1.3v1.1h-1.3zM234.2 77.0h1.0v0.8h-1.0zM244.4 70.5h1.0v1.0h-1.0zM234.1 70.8h1.5v0.9h-1.5zM243.8 71.5h1.4v0.8h-1.4zM246.4 74.4h1.5v1.1h-1.5zM240.4 73.8h1.4v0.9h-1.4zM228.9 76.8h1.4v1.0h-1.4zM242.9 71.4h1.2v1.1h-1.2zM247.6 76.9h1.0v1.0h-1.0zM238.8 72.7h1.0v0.8h-1.0zM237.0 73.4h1.1v0.9h-1.1zM238.8 75.6h1.3v0.8h-1.3zM245.9 72.4h1.5v1.2h-1.5zM229.8 74.2h1.5v0.9h-1.5zM238.6 72.0h0.9v0.8h-0.9zM229.5 71.8h1.3v1.0h-1.3zM247.3 75.0h1.1v1.2h-1.1zM240.5 73.8h1.4v1.0h-1.4zM234.6 74.3h1.1v1.2h-1.1z" fill="#fff"/>
<path d="M232.1 77.8h0.9v0.7h-0.9zM238.7 71.2h1.2v0.8h-1.2zM244.9 75.2h1.3v1.2h-1.3zM248.2 75.3h1.3v0.7h-1.3zM227.9 73.1h1.5v0.9h-1.5zM239.1 69.6h1.1v1.2h-1.1zM239.5 76.5h0.9v0.8h-0.9zM230.7 76.6h1.0v1.2h-1.0zM232.6 77.0h1.2v0.9h-1.2zM247.7 72.9h1.3v0.8h-1.3zM244.7 77.8h1.0v1.1h-1.0zM232.6 70.8h1.1v1.0h-1.1zM247.4 77.9h1.5v1.0h-1.5zM240.9 70.9h1.3v1.0h-1.3zM234.6 77.2h1.1v0.8h-1.1zM230.2 70.8h1.3v1.1h-1.3zM230.3 73.8h1.2v1.0h-1.2zM235.7 74.1h0.9v0.7h-0.9zM235.9 71.5h1.4v0.8h-1.4zM244.6 71.6h1.0v0.9h-1.0zM235.2 72.4h1.4v0.8h-1.4zM241.3 76.6h1.2v1.0h-1.2zM246.8 74.6h1.0v0.8h-1.0zM228.6 72.3h1.0v1.0h-1.0zM235.9 72.1h1.2v1.2h-1.2zM232.1 70.8h1.1v0.9h-1.1zM246.5 75.5h1.2v0.8h-1.2zM227.8 70.5h1.4v1.0h-1.4zM230.2 74.8h0.9v1.0h-0.9zM234.0 70.4h1.3v1.1h-1.3zM237.8 70.9h1.3v0.9h-1.3zM241.1 70.3h1.4v0.7h-1.4zM231.6 72.9h1.0v0.8h-1.0zM241.6 77.9h1.1v0.8h-1.1zM241.3 71.4h1.1v1.1h-1.1zM236.1 70.8h0.9v1.0h-0.9zM248.2 77.3h1.0v1.0h-1.0zM237.4 71.1h1.3v1.0h-1.3zM244.3 72.0h1.5v1.1h-1.5zM237.0 70.7h1.2v0.8h-1.2zM241.6 75.4h1.2v1.2h-1.2zM227.8 75.6h1.4v0.8h-1.4zM233.8 70.0h1.2v1.1h-1.2zM234.3 75.4h1.1v1.1h-1.1z" fill="#1a1a1a"/>
<path d="M232.8 68.8h0.9v0.6h-0.9zM228.8 66.5h1.0v0.8h-1.0zM230.2 67.8h1.0v0.6h-1.0zM235.0 66.0h0.7v0.6h-0.7zM234.4 67.9h1.1v0.7h-1.1z" fill="#333"/>
<path d="M246.4 114.3h1.7v1.2h-1.7zM247.7 113.2h1.8v1.2h-1.8zM231.0 112.1h1.4v1.0h-1.4zM234.9 112.1h1.5v0.9h-1.5zM232.8 112.0h1.4v1.1h-1.4zM241.1 109.5h1.4v1.0h-1.4zM243.4 113.6h1.6v1.1h-1.6zM232.2 115.4h1.4v1.0h-1.4zM233.1 111.2h1.6v1.3h-1.6zM237.2 113.8h1.2v1.1h-1.2zM234.5 110.5h1.3v1.3h-1.3zM242.6 109.7h1.2v1.3h-1.2zM240.9 113.4h1.5v1.2h-1.5zM232.7 108.5h1.3v0.8h-1.3zM247.6 112.2h1.5v1.4h-1.5zM244.2 109.8h1.3v0.9h-1.3zM244.0 113.9h1.4v1.0h-1.4zM232.6 111.9h1.6v1.4h-1.6zM245.1 114.9h1.4v1.1h-1.4zM233.6 115.8h1.1v0.9h-1.1zM232.9 115.4h1.7v1.0h-1.7zM245.2 115.1h1.3v0.9h-1.3zM243.5 111.0h1.1v1.4h-1.1zM236.3 111.2h1.5v1.0h-1.5zM227.2 111.1h1.3v0.8h-1.3zM234.8 114.1h1.3v1.2h-1.3zM240.3 109.5h1.0v1.2h-1.0zM240.0 110.4h1.2v1.3h-1.2zM246.4 109.9h1.5v1.2h-1.5zM233.8 108.3h1.3v1.2h-1.3zM239.8 112.1h1.1v0.9h-1.1zM233.5 111.3h1.3v1.4h-1.3zM229.3 115.9h1.2v1.3h-1.2zM232.1 112.7h1.3v0.8h-1.3zM244.0 114.5h1.2v1.3h-1.2zM237.1 115.9h1.0v1.0h-1.0zM231.7 113.0h1.6v1.3h-1.6zM238.6 111.1h1.6v0.9h-1.6zM232.4 114.0h1.4v1.4h-1.4zM228.8 111.7h1.2v0.8h-1.2zM228.8 108.7h1.3v1.1h-1.3zM237.8 110.3h1.6v1.1h-1.6zM248.0 109.4h1.4v1.1h-1.4zM234.8 114.9h1.2v1.4h-1.2z" fill="#fff"/>
<path d="M234.5 109.5h1.3v1.0h-1.3zM232.9 106.9h1.5v0.9h-1.5zM229.3 112.9h1.2v0.9h-1.2zM233.9 114.9h1.1v0.9h-1.1zM247.5 109.8h1.1v0.8h-1.1zM241.1 113.0h1.2v0.9h-1.2zM231.8 114.3h1.2v1.1h-1.2zM234.9 113.7h0.9v0.8h-0.9zM247.5 113.2h1.3v1.0h-1.3zM237.0 108.1h1.0v1.0h-1.0zM241.8 108.7h1.3v0.8h-1.3zM240.0 107.8h1.2v0.9h-1.2zM238.7 107.4h1.2v1.0h-1.2zM229.7 109.2h1.3v1.0h-1.3zM240.1 114.2h1.2v0.8h-1.2zM236.4 114.7h1.2v1.1h-1.2zM234.7 110.7h1.5v1.1h-1.5zM240.9 107.1h1.3v0.7h-1.3zM247.0 116.2h1.3v0.8h-1.3zM245.1 107.9h1.4v1.0h-1.4zM227.1 115.3h1.2v1.1h-1.2zM241.7 111.6h1.4v0.8h-1.4zM246.2 109.6h0.9v0.9h-0.9zM228.2 106.8h1.3v0.8h-1.3zM230.2 109.1h1.1v1.2h-1.1zM246.4 115.1h1.5v0.9h-1.5zM244.0 108.9h1.5v1.1h-1.5zM242.6 108.4h1.0v1.2h-1.0zM238.7 112.4h1.4v0.8h-1.4zM241.9 110.9h1.4v0.9h-1.4zM231.0 116.0h1.1v1.1h-1.1zM244.8 108.6h1.3v0.9h-1.3z" fill="#111"/>
<rect x="248.4" y="76" width="1.5" height="32" fill="#dcdcdc"/>
<rect x="248.4" y="108" width="1.5" height="10" fill="#999"/>
<rect x="248.4" y="63" width="1.5" height="13" fill="#888"/>
<rect x="227" y="116.6" width="128" height="1.2" fill="#505050" opacity="0.9"/>
</g>
<line x1="226.50" y1="37.30" x2="354.60" y2="37.30" stroke="#222" stroke-width="0.9" />
<line x1="226.50" y1="37.30" x2="226.50" y2="117.60" stroke="#444" stroke-width="0.7" />
<line x1="230.30" y1="117.60" x2="230.30" y2="119.20" stroke="#999" stroke-width="0.5" />
<line x1="237.70" y1="117.60" x2="237.70" y2="118.60" stroke="#999" stroke-width="0.5" />
<line x1="245.10" y1="117.60" x2="245.10" y2="118.60" stroke="#999" stroke-width="0.5" />
<line x1="252.50" y1="117.60" x2="252.50" y2="118.60" stroke="#999" stroke-width="0.5" />
<line x1="259.90" y1="117.60" x2="259.90" y2="118.60" stroke="#999" stroke-width="0.5" />
<line x1="267.30" y1="117.60" x2="267.30" y2="119.20" stroke="#999" stroke-width="0.5" />
<line x1="274.70" y1="117.60" x2="274.70" y2="118.60" stroke="#999" stroke-width="0.5" />
<line x1="282.10" y1="117.60" x2="282.10" y2="118.60" stroke="#999" stroke-width="0.5" />
<line x1="289.50" y1="117.60" x2="289.50" y2="118.60" stroke="#999" stroke-width="0.5" />
<line x1="296.90" y1="117.60" x2="296.90" y2="118.60" stroke="#999" stroke-width="0.5" />
<line x1="304.30" y1="117.60" x2="304.30" y2="119.20" stroke="#999" stroke-width="0.5" />
<line x1="311.70" y1="117.60" x2="311.70" y2="118.60" stroke="#999" stroke-width="0.5" />
<line x1="319.10" y1="117.60" x2="319.10" y2="118.60" stroke="#999" stroke-width="0.5" />
<line x1="326.50" y1="117.60" x2="326.50" y2="118.60" stroke="#999" stroke-width="0.5" />
<line x1="333.90" y1="117.60" x2="333.90" y2="118.60" stroke="#999" stroke-width="0.5" />
<line x1="341.30" y1="117.60" x2="341.30" y2="119.20" stroke="#999" stroke-width="0.5" />
<line x1="348.70" y1="117.60" x2="348.70" y2="118.60" stroke="#999" stroke-width="0.5" />
<text x="230.80" y="129.40" font-size="7.3" font-weight="normal" fill="#111" text-anchor="middle" stroke="#111" stroke-width="0.25">0</text>
<text x="263.50" y="129.40" font-size="7.3" font-weight="normal" fill="#111" text-anchor="middle" stroke="#111" stroke-width="0.25">100</text>
<text x="296.60" y="129.40" font-size="7.3" font-weight="normal" fill="#111" text-anchor="middle" stroke="#111" stroke-width="0.25">200</text>
<text x="330.30" y="129.40" font-size="7.3" font-weight="normal" fill="#111" text-anchor="middle" stroke="#111" stroke-width="0.25">300</text>
<text x="291.20" y="139.50" font-size="9" font-weight="bold" fill="#000" text-anchor="middle" textLength="44.3" lengthAdjust="spacingAndGlyphs" >Time (sec)</text>
<text x="220.60" y="78.00" font-size="9.5" font-weight="bold" fill="#000" text-anchor="middle" textLength="40.0" lengthAdjust="spacingAndGlyphs" transform="rotate(-90 220.60 78.00)" >Fluo4/AM</text>
<text x="251.00" y="30.60" font-size="8.6" font-weight="bold" fill="#000" text-anchor="middle" textLength="36.5" lengthAdjust="spacingAndGlyphs" stroke="#000" stroke-width="0.2">ABT-263</text>
<line x1="247.90" y1="32.80" x2="247.90" y2="52.30" stroke="#000" stroke-width="1.4" />
<polyline points="244.60,48.30 247.90,52.80 251.20,48.30" fill="none" stroke="#000" stroke-width="1.4"/>
<line x1="387.00" y1="29.50" x2="387.00" y2="119.50" stroke="#a0a0a0" stroke-width="0.8" />
<line x1="385.00" y1="117.50" x2="517.00" y2="117.50" stroke="#b4b4b4" stroke-width="0.8" />
<line x1="385.00" y1="117.50" x2="387.00" y2="117.50" stroke="#a0a0a0" stroke-width="0.7" />
<text x="380.00" y="120.10" font-size="7.3" font-weight="normal" fill="#5a5a5a" text-anchor="end" textLength="3.5" lengthAdjust="spacingAndGlyphs" >0</text>
<line x1="385.00" y1="100.05" x2="387.00" y2="100.05" stroke="#a0a0a0" stroke-width="0.7" />
<text x="380.00" y="102.65" font-size="7.3" font-weight="normal" fill="#5a5a5a" text-anchor="end" textLength="7.1" lengthAdjust="spacingAndGlyphs" >20</text>
<line x1="385.00" y1="82.60" x2="387.00" y2="82.60" stroke="#a0a0a0" stroke-width="0.7" />
<text x="380.00" y="85.20" font-size="7.3" font-weight="normal" fill="#5a5a5a" text-anchor="end" textLength="7.1" lengthAdjust="spacingAndGlyphs" >40</text>
<line x1="385.00" y1="65.15" x2="387.00" y2="65.15" stroke="#a0a0a0" stroke-width="0.7" />
<text x="380.00" y="67.75" font-size="7.3" font-weight="normal" fill="#5a5a5a" text-anchor="end" textLength="7.1" lengthAdjust="spacingAndGlyphs" >60</text>
<line x1="385.00" y1="47.70" x2="387.00" y2="47.70" stroke="#a0a0a0" stroke-width="0.7" />
<text x="380.00" y="50.30" font-size="7.3" font-weight="normal" fill="#5a5a5a" text-anchor="end" textLength="7.1" lengthAdjust="spacingAndGlyphs" >80</text>
<line x1="385.00" y1="30.25" x2="387.00" y2="30.25" stroke="#a0a0a0" stroke-width="0.7" />
<text x="380.00" y="32.85" font-size="7.3" font-weight="normal" fill="#5a5a5a" text-anchor="end" textLength="10.6" lengthAdjust="spacingAndGlyphs" >100</text>
<line x1="387.00" y1="117.50" x2="387.00" y2="119.10" stroke="#c4c4c4" stroke-width="0.5" />
<line x1="396.37" y1="117.50" x2="396.37" y2="119.10" stroke="#c4c4c4" stroke-width="0.5" />
<line x1="405.74" y1="117.50" x2="405.74" y2="119.10" stroke="#c4c4c4" stroke-width="0.5" />
<line x1="415.11" y1="117.50" x2="415.11" y2="119.10" stroke="#c4c4c4" stroke-width="0.5" />
<line x1="424.48" y1="117.50" x2="424.48" y2="119.10" stroke="#c4c4c4" stroke-width="0.5" />
<line x1="433.85" y1="117.50" x2="433.85" y2="119.10" stroke="#c4c4c4" stroke-width="0.5" />
<line x1="443.22" y1="117.50" x2="443.22" y2="119.10" stroke="#c4c4c4" stroke-width="0.5" />
<line x1="452.59" y1="117.50" x2="452.59" y2="119.10" stroke="#c4c4c4" stroke-width="0.5" />
<line x1="461.96" y1="117.50" x2="461.96" y2="119.10" stroke="#c4c4c4" stroke-width="0.5" />
<line x1="471.33" y1="117.50" x2="471.33" y2="119.10" stroke="#c4c4c4" stroke-width="0.5" />
<line x1="480.70" y1="117.50" x2="480.70" y2="119.10" stroke="#c4c4c4" stroke-width="0.5" />
<line x1="490.07" y1="117.50" x2="490.07" y2="119.10" stroke="#c4c4c4" stroke-width="0.5" />
<line x1="499.44" y1="117.50" x2="499.44" y2="119.10" stroke="#c4c4c4" stroke-width="0.5" />
<line x1="508.81" y1="117.50" x2="508.81" y2="119.10" stroke="#c4c4c4" stroke-width="0.5" />
<line x1="518.18" y1="117.50" x2="518.18" y2="119.10" stroke="#c4c4c4" stroke-width="0.5" />
<text x="401.57" y="129.90" font-size="5.6" font-weight="bold" fill="#4a4a4a" text-anchor="middle" textLength="5.8" lengthAdjust="spacingAndGlyphs" >35</text>
<text x="420.31" y="129.90" font-size="5.6" font-weight="bold" fill="#4a4a4a" text-anchor="middle" textLength="5.8" lengthAdjust="spacingAndGlyphs" >70</text>
<text x="439.05" y="129.90" font-size="5.6" font-weight="bold" fill="#4a4a4a" text-anchor="middle" textLength="8.7" lengthAdjust="spacingAndGlyphs" >105</text>
<text x="457.79" y="129.90" font-size="5.6" font-weight="bold" fill="#4a4a4a" text-anchor="middle" textLength="8.7" lengthAdjust="spacingAndGlyphs" >140</text>
<text x="476.53" y="129.90" font-size="5.6" font-weight="bold" fill="#4a4a4a" text-anchor="middle" textLength="8.7" lengthAdjust="spacingAndGlyphs" >175</text>
<text x="495.27" y="129.90" font-size="5.6" font-weight="bold" fill="#4a4a4a" text-anchor="middle" textLength="8.7" lengthAdjust="spacingAndGlyphs" >210</text>
<text x="514.01" y="129.90" font-size="5.6" font-weight="bold" fill="#4a4a4a" text-anchor="middle" textLength="8.7" lengthAdjust="spacingAndGlyphs" >245</text>
<line x1="420.31" y1="85.74" x2="420.31" y2="75.97" stroke="#1a1a1a" stroke-width="1.0" />
<line x1="418.71" y1="75.97" x2="421.91" y2="75.97" stroke="#1a1a1a" stroke-width="1.0" />
<line x1="429.68" y1="54.77" x2="429.68" y2="46.83" stroke="#1a1a1a" stroke-width="1.0" />
<line x1="428.08" y1="46.83" x2="431.28" y2="46.83" stroke="#1a1a1a" stroke-width="1.0" />
<line x1="439.05" y1="59.04" x2="439.05" y2="48.57" stroke="#1a1a1a" stroke-width="1.0" />
<line x1="437.45" y1="48.57" x2="440.65" y2="48.57" stroke="#1a1a1a" stroke-width="1.0" />
<line x1="448.42" y1="66.63" x2="448.42" y2="56.08" stroke="#1a1a1a" stroke-width="1.0" />
<line x1="446.82" y1="56.08" x2="450.02" y2="56.08" stroke="#1a1a1a" stroke-width="1.0" />
<line x1="457.79" y1="72.13" x2="457.79" y2="63.67" stroke="#1a1a1a" stroke-width="1.0" />
<line x1="456.19" y1="63.67" x2="459.39" y2="63.67" stroke="#1a1a1a" stroke-width="1.0" />
<line x1="467.16" y1="77.71" x2="467.16" y2="69.60" stroke="#1a1a1a" stroke-width="1.0" />
<line x1="465.56" y1="69.60" x2="468.76" y2="69.60" stroke="#1a1a1a" stroke-width="1.0" />
<line x1="476.53" y1="79.81" x2="476.53" y2="72.57" stroke="#1a1a1a" stroke-width="1.0" />
<line x1="474.93" y1="72.57" x2="478.13" y2="72.57" stroke="#1a1a1a" stroke-width="1.0" />
<line x1="485.90" y1="82.34" x2="485.90" y2="75.10" stroke="#1a1a1a" stroke-width="1.0" />
<line x1="484.30" y1="75.10" x2="487.50" y2="75.10" stroke="#1a1a1a" stroke-width="1.0" />
<line x1="495.27" y1="83.65" x2="495.27" y2="77.28" stroke="#1a1a1a" stroke-width="1.0" />
<line x1="493.67" y1="77.28" x2="496.87" y2="77.28" stroke="#1a1a1a" stroke-width="1.0" />
<line x1="504.64" y1="85.30" x2="504.64" y2="79.37" stroke="#1a1a1a" stroke-width="1.0" />
<line x1="503.04" y1="79.37" x2="506.24" y2="79.37" stroke="#1a1a1a" stroke-width="1.0" />
<line x1="514.01" y1="86.09" x2="514.01" y2="80.68" stroke="#1a1a1a" stroke-width="1.0" />
<line x1="512.41" y1="80.68" x2="515.61" y2="80.68" stroke="#1a1a1a" stroke-width="1.0" />
<polyline points="392.20,102.67 401.57,102.67 410.94,102.67 420.31,85.74 429.68,54.77 439.05,59.04 448.42,66.63 457.79,72.13 467.16,77.71 476.53,79.81 485.90,82.34 495.27,83.65 504.64,85.30 514.01,86.09" fill="none" stroke="#000" stroke-width="1.3"/>
<circle cx="392.20" cy="102.67" r="1.8" fill="#000"/>
<circle cx="401.57" cy="102.67" r="1.8" fill="#000"/>
<circle cx="410.94" cy="102.67" r="1.8" fill="#000"/>
<circle cx="420.31" cy="85.74" r="1.8" fill="#000"/>
<circle cx="429.68" cy="54.77" r="1.8" fill="#000"/>
<circle cx="439.05" cy="59.04" r="1.8" fill="#000"/>
<circle cx="448.42" cy="66.63" r="1.8" fill="#000"/>
<circle cx="457.79" cy="72.13" r="1.8" fill="#000"/>
<circle cx="467.16" cy="77.71" r="1.8" fill="#000"/>
<circle cx="476.53" cy="79.81" r="1.8" fill="#000"/>
<circle cx="485.90" cy="82.34" r="1.8" fill="#000"/>
<circle cx="495.27" cy="83.65" r="1.8" fill="#000"/>
<circle cx="504.64" cy="85.30" r="1.8" fill="#000"/>
<circle cx="514.01" cy="86.09" r="1.8" fill="#000"/>
<text x="453.00" y="140.20" font-size="9.5" font-weight="bold" fill="#000" text-anchor="middle" textLength="43.8" lengthAdjust="spacingAndGlyphs" >Time (sec)</text>
<text x="371.00" y="73.00" font-size="8.5" font-weight="bold" fill="#000" text-anchor="middle" textLength="70.0" lengthAdjust="spacingAndGlyphs" transform="rotate(-90 371.00 73.00)" >Fluo4/AM (MFI)</text>
<text x="412.00" y="34.60" font-size="8.6" font-weight="bold" fill="#000" text-anchor="middle" textLength="36.5" lengthAdjust="spacingAndGlyphs" stroke="#000" stroke-width="0.2">ABT-263</text>
<line x1="413.00" y1="38.00" x2="413.00" y2="56.80" stroke="#000" stroke-width="1.4" />
<polyline points="409.70,52.80 413.00,57.30 416.30,52.80" fill="none" stroke="#000" stroke-width="1.4"/>
<text x="206.80" y="174.00" font-size="13.5" font-weight="bold" fill="#000" text-anchor="start" >D</text>
<line x1="245.20" y1="194.00" x2="245.20" y2="320.40" stroke="#a0a0a0" stroke-width="0.8" />
<line x1="243.20" y1="318.40" x2="508.50" y2="318.40" stroke="#b4b4b4" stroke-width="0.8" />
<line x1="243.20" y1="318.40" x2="245.20" y2="318.40" stroke="#a0a0a0" stroke-width="0.7" />
<text x="239.00" y="321.00" font-size="7.3" font-weight="normal" fill="#5a5a5a" text-anchor="end" textLength="3.7" lengthAdjust="spacingAndGlyphs" >0</text>
<line x1="243.20" y1="293.55" x2="245.20" y2="293.55" stroke="#a0a0a0" stroke-width="0.7" />
<text x="239.00" y="296.15" font-size="7.3" font-weight="normal" fill="#5a5a5a" text-anchor="end" textLength="7.4" lengthAdjust="spacingAndGlyphs" >40</text>
<line x1="243.20" y1="268.70" x2="245.20" y2="268.70" stroke="#a0a0a0" stroke-width="0.7" />
<text x="239.00" y="271.30" font-size="7.3" font-weight="normal" fill="#5a5a5a" text-anchor="end" textLength="7.4" lengthAdjust="spacingAndGlyphs" >80</text>
<line x1="243.20" y1="243.85" x2="245.20" y2="243.85" stroke="#a0a0a0" stroke-width="0.7" />
<text x="239.00" y="246.45" font-size="7.3" font-weight="normal" fill="#5a5a5a" text-anchor="end" textLength="11.1" lengthAdjust="spacingAndGlyphs" >120</text>
<line x1="243.20" y1="219.00" x2="245.20" y2="219.00" stroke="#a0a0a0" stroke-width="0.7" />
<text x="239.00" y="221.60" font-size="7.3" font-weight="normal" fill="#5a5a5a" text-anchor="end" textLength="11.1" lengthAdjust="spacingAndGlyphs" >160</text>
<line x1="243.20" y1="194.15" x2="245.20" y2="194.15" stroke="#a0a0a0" stroke-width="0.7" />
<text x="239.00" y="196.75" font-size="7.3" font-weight="normal" fill="#5a5a5a" text-anchor="end" textLength="11.1" lengthAdjust="spacingAndGlyphs" >200</text>
<line x1="245.65" y1="318.40" x2="245.65" y2="320.40" stroke="#a0a0a0" stroke-width="0.6" />
<line x1="264.30" y1="318.40" x2="264.30" y2="320.40" stroke="#a0a0a0" stroke-width="0.6" />
<line x1="282.95" y1="318.40" x2="282.95" y2="320.40" stroke="#a0a0a0" stroke-width="0.6" />
<line x1="301.60" y1="318.40" x2="301.60" y2="320.40" stroke="#a0a0a0" stroke-width="0.6" />
<line x1="320.25" y1="318.40" x2="320.25" y2="320.40" stroke="#a0a0a0" stroke-width="0.6" />
<line x1="338.90" y1="318.40" x2="338.90" y2="320.40" stroke="#a0a0a0" stroke-width="0.6" />
<line x1="357.55" y1="318.40" x2="357.55" y2="320.40" stroke="#a0a0a0" stroke-width="0.6" />
<line x1="376.20" y1="318.40" x2="376.20" y2="320.40" stroke="#a0a0a0" stroke-width="0.6" />
<line x1="394.85" y1="318.40" x2="394.85" y2="320.40" stroke="#a0a0a0" stroke-width="0.6" />
<line x1="413.50" y1="318.40" x2="413.50" y2="320.40" stroke="#a0a0a0" stroke-width="0.6" />
<line x1="432.15" y1="318.40" x2="432.15" y2="320.40" stroke="#a0a0a0" stroke-width="0.6" />
<line x1="450.80" y1="318.40" x2="450.80" y2="320.40" stroke="#a0a0a0" stroke-width="0.6" />
<line x1="469.45" y1="318.40" x2="469.45" y2="320.40" stroke="#a0a0a0" stroke-width="0.6" />
<line x1="488.10" y1="318.40" x2="488.10" y2="320.40" stroke="#a0a0a0" stroke-width="0.6" />
<line x1="506.75" y1="318.40" x2="506.75" y2="320.40" stroke="#a0a0a0" stroke-width="0.6" />
<text x="274.15" y="332.60" font-size="7.2" font-weight="normal" fill="#505050" text-anchor="middle" textLength="7.2" lengthAdjust="spacingAndGlyphs" >35</text>
<text x="311.45" y="332.60" font-size="7.2" font-weight="normal" fill="#505050" text-anchor="middle" textLength="7.2" lengthAdjust="spacingAndGlyphs" >70</text>
<text x="348.75" y="332.60" font-size="7.2" font-weight="normal" fill="#505050" text-anchor="middle" textLength="10.8" lengthAdjust="spacingAndGlyphs" >105</text>
<text x="386.05" y="332.60" font-size="7.2" font-weight="normal" fill="#505050" text-anchor="middle" textLength="10.8" lengthAdjust="spacingAndGlyphs" >140</text>
<text x="423.35" y="332.60" font-size="7.2" font-weight="normal" fill="#505050" text-anchor="middle" textLength="10.8" lengthAdjust="spacingAndGlyphs" >175</text>
<text x="460.65" y="332.60" font-size="7.2" font-weight="normal" fill="#505050" text-anchor="middle" textLength="10.8" lengthAdjust="spacingAndGlyphs" >210</text>
<text x="497.95" y="332.60" font-size="7.2" font-weight="normal" fill="#505050" text-anchor="middle" textLength="10.8" lengthAdjust="spacingAndGlyphs" >245</text>
<line x1="311.45" y1="259.01" x2="311.45" y2="245.71" stroke="#1a1a1a" stroke-width="1.0" />
<line x1="309.85" y1="245.71" x2="313.05" y2="245.71" stroke="#1a1a1a" stroke-width="1.0" />
<line x1="330.10" y1="246.83" x2="330.10" y2="239.81" stroke="#1a1a1a" stroke-width="1.0" />
<line x1="328.50" y1="239.81" x2="331.70" y2="239.81" stroke="#1a1a1a" stroke-width="1.0" />
<line x1="348.75" y1="242.86" x2="348.75" y2="232.54" stroke="#1a1a1a" stroke-width="1.0" />
<line x1="347.15" y1="232.54" x2="350.35" y2="232.54" stroke="#1a1a1a" stroke-width="1.0" />
<line x1="367.40" y1="240.62" x2="367.40" y2="229.31" stroke="#1a1a1a" stroke-width="1.0" />
<line x1="365.80" y1="229.31" x2="369.00" y2="229.31" stroke="#1a1a1a" stroke-width="1.0" />
<line x1="386.05" y1="239.81" x2="386.05" y2="228.51" stroke="#1a1a1a" stroke-width="1.0" />
<line x1="384.45" y1="228.51" x2="387.65" y2="228.51" stroke="#1a1a1a" stroke-width="1.0" />
<line x1="404.70" y1="238.38" x2="404.70" y2="226.45" stroke="#1a1a1a" stroke-width="1.0" />
<line x1="403.10" y1="226.45" x2="406.30" y2="226.45" stroke="#1a1a1a" stroke-width="1.0" />
<line x1="423.35" y1="239.19" x2="423.35" y2="227.32" stroke="#1a1a1a" stroke-width="1.0" />
<line x1="421.75" y1="227.32" x2="424.95" y2="227.32" stroke="#1a1a1a" stroke-width="1.0" />
<line x1="442.00" y1="238.63" x2="442.00" y2="227.32" stroke="#1a1a1a" stroke-width="1.0" />
<line x1="440.40" y1="227.32" x2="443.60" y2="227.32" stroke="#1a1a1a" stroke-width="1.0" />
<line x1="460.65" y1="238.63" x2="460.65" y2="225.40" stroke="#1a1a1a" stroke-width="1.0" />
<line x1="459.05" y1="225.40" x2="462.25" y2="225.40" stroke="#1a1a1a" stroke-width="1.0" />
<line x1="479.30" y1="237.82" x2="479.30" y2="222.54" stroke="#1a1a1a" stroke-width="1.0" />
<line x1="477.70" y1="222.54" x2="480.90" y2="222.54" stroke="#1a1a1a" stroke-width="1.0" />
<line x1="497.95" y1="238.38" x2="497.95" y2="221.98" stroke="#1a1a1a" stroke-width="1.0" />
<line x1="496.35" y1="221.98" x2="499.55" y2="221.98" stroke="#1a1a1a" stroke-width="1.0" />
<polyline points="255.50,308.46 274.15,308.46 292.80,308.46 311.45,259.01 330.10,246.83 348.75,242.86 367.40,240.62 386.05,239.81 404.70,238.38 423.35,239.19 442.00,238.63 460.65,238.63 479.30,237.82 497.95,238.38" fill="none" stroke="#000" stroke-width="1.1"/>
<polygon points="255.50,306.36 257.60,308.46 255.50,310.56 253.40,308.46" fill="#000"/>
<polygon points="274.15,306.36 276.25,308.46 274.15,310.56 272.05,308.46" fill="#000"/>
<polygon points="292.80,306.36 294.90,308.46 292.80,310.56 290.70,308.46" fill="#000"/>
<polygon points="311.45,256.91 313.55,259.01 311.45,261.11 309.35,259.01" fill="#000"/>
<polygon points="330.10,244.73 332.20,246.83 330.10,248.93 328.00,246.83" fill="#000"/>
<polygon points="348.75,240.76 350.85,242.86 348.75,244.96 346.65,242.86" fill="#000"/>
<polygon points="367.40,238.52 369.50,240.62 367.40,242.72 365.30,240.62" fill="#000"/>
<polygon points="386.05,237.71 388.15,239.81 386.05,241.91 383.95,239.81" fill="#000"/>
<polygon points="404.70,236.28 406.80,238.38 404.70,240.48 402.60,238.38" fill="#000"/>
<polygon points="423.35,237.09 425.45,239.19 423.35,241.29 421.25,239.19" fill="#000"/>
<polygon points="442.00,236.53 444.10,238.63 442.00,240.73 439.90,238.63" fill="#000"/>
<polygon points="460.65,236.53 462.75,238.63 460.65,240.73 458.55,238.63" fill="#000"/>
<polygon points="479.30,235.72 481.40,237.82 479.30,239.92 477.20,237.82" fill="#000"/>
<polygon points="497.95,236.28 500.05,238.38 497.95,240.48 495.85,238.38" fill="#000"/>
<polyline points="255.50,307.53 274.15,307.84 292.80,307.84 311.45,307.03 330.10,303.74 348.75,302.50 367.40,302.06 386.05,301.94 404.70,301.94 423.35,301.94 442.00,301.94 460.65,302.25 479.30,302.68 497.95,302.87" fill="none" stroke="#000" stroke-width="1.2"/>
<rect x="253.90" y="305.93" width="3.20" height="3.20" fill="#000"/>
<rect x="272.55" y="306.24" width="3.20" height="3.20" fill="#000"/>
<rect x="291.20" y="306.24" width="3.20" height="3.20" fill="#000"/>
<rect x="309.85" y="305.43" width="3.20" height="3.20" fill="#000"/>
<rect x="328.50" y="302.14" width="3.20" height="3.20" fill="#000"/>
<rect x="347.15" y="300.90" width="3.20" height="3.20" fill="#000"/>
<rect x="365.80" y="300.46" width="3.20" height="3.20" fill="#000"/>
<rect x="384.45" y="300.34" width="3.20" height="3.20" fill="#000"/>
<rect x="403.10" y="300.34" width="3.20" height="3.20" fill="#000"/>
<rect x="421.75" y="300.34" width="3.20" height="3.20" fill="#000"/>
<rect x="440.40" y="300.34" width="3.20" height="3.20" fill="#000"/>
<rect x="459.05" y="300.65" width="3.20" height="3.20" fill="#000"/>
<rect x="477.70" y="301.08" width="3.20" height="3.20" fill="#000"/>
<rect x="496.35" y="301.27" width="3.20" height="3.20" fill="#000"/>
<polyline points="255.50,309.08 274.15,308.77 292.80,308.58 311.45,307.53 330.10,304.55 348.75,303.99 367.40,303.80 386.05,303.80 404.70,303.80 423.35,303.68 442.00,303.68 460.65,303.74 479.30,303.55 497.95,303.49" fill="none" stroke="#000" stroke-width="1.2"/>
<polygon points="255.50,306.78 257.70,310.78 253.30,310.78" fill="#fff" stroke="#000" stroke-width="0.8"/>
<polygon points="274.15,306.47 276.35,310.47 271.95,310.47" fill="#fff" stroke="#000" stroke-width="0.8"/>
<polygon points="292.80,306.28 295.00,310.28 290.60,310.28" fill="#fff" stroke="#000" stroke-width="0.8"/>
<polygon points="311.45,305.23 313.65,309.23 309.25,309.23" fill="#fff" stroke="#000" stroke-width="0.8"/>
<polygon points="330.10,302.25 332.30,306.25 327.90,306.25" fill="#fff" stroke="#000" stroke-width="0.8"/>
<polygon points="348.75,301.69 350.95,305.69 346.55,305.69" fill="#fff" stroke="#000" stroke-width="0.8"/>
<polygon points="367.40,301.50 369.60,305.50 365.20,305.50" fill="#fff" stroke="#000" stroke-width="0.8"/>
<polygon points="386.05,301.50 388.25,305.50 383.85,305.50" fill="#fff" stroke="#000" stroke-width="0.8"/>
<polygon points="404.70,301.50 406.90,305.50 402.50,305.50" fill="#fff" stroke="#000" stroke-width="0.8"/>
<polygon points="423.35,301.38 425.55,305.38 421.15,305.38" fill="#fff" stroke="#000" stroke-width="0.8"/>
<polygon points="442.00,301.38 444.20,305.38 439.80,305.38" fill="#fff" stroke="#000" stroke-width="0.8"/>
<polygon points="460.65,301.44 462.85,305.44 458.45,305.44" fill="#fff" stroke="#000" stroke-width="0.8"/>
<polygon points="479.30,301.25 481.50,305.25 477.10,305.25" fill="#fff" stroke="#000" stroke-width="0.8"/>
<polygon points="497.95,301.19 500.15,305.19 495.75,305.19" fill="#fff" stroke="#000" stroke-width="0.8"/>
<text x="376.90" y="350.40" font-size="9.8" font-weight="bold" fill="#000" text-anchor="middle" textLength="44.5" lengthAdjust="spacingAndGlyphs" >Time (sec)</text>
<text x="220.20" y="257.00" font-size="8.5" font-weight="bold" fill="#000" text-anchor="middle" textLength="70.0" lengthAdjust="spacingAndGlyphs" transform="rotate(-90 220.20 257.00)" >Fluo4/AM (MFI)</text>
<text x="295.00" y="246.50" font-size="8.4" font-weight="bold" fill="#000" text-anchor="middle" textLength="30.0" lengthAdjust="spacingAndGlyphs" stroke="#000" stroke-width="0.2">A23187</text>
<line x1="298.50" y1="249.70" x2="298.50" y2="264.40" stroke="#000" stroke-width="1.4" />
<polyline points="295.60,261.10 298.50,264.90 301.40,261.10" fill="none" stroke="#000" stroke-width="1.4"/>
<line x1="261.20" y1="197.70" x2="275.20" y2="197.70" stroke="#000" stroke-width="1.3" />
<polygon points="268.20,195.60 270.30,197.70 268.20,199.80 266.10,197.70" fill="#000"/>
<text x="276.50" y="200.10" font-size="7" font-weight="normal" fill="#707070" text-anchor="start" textLength="23.0" lengthAdjust="spacingAndGlyphs" >control</text>
<line x1="261.20" y1="208.40" x2="275.20" y2="208.40" stroke="#000" stroke-width="1.3" />
<rect x="266.00" y="206.20" width="4.40" height="4.40" fill="#000"/>
<text x="276.50" y="210.80" font-size="7" font-weight="normal" fill="#707070" text-anchor="start" textLength="25.0" lengthAdjust="spacingAndGlyphs" >ABT-263</text>
<line x1="261.20" y1="219.40" x2="275.20" y2="219.40" stroke="#000" stroke-width="1.3" />
<polygon points="268.20,217.50 270.10,220.90 266.30,220.90" fill="#fff" stroke="#000" stroke-width="0.7"/>
<text x="276.50" y="221.80" font-size="7" font-weight="normal" fill="#707070" text-anchor="start" textLength="60.0" lengthAdjust="spacingAndGlyphs" >ABT-263 +zVAD.fmk</text>
</svg>
</body></html>
